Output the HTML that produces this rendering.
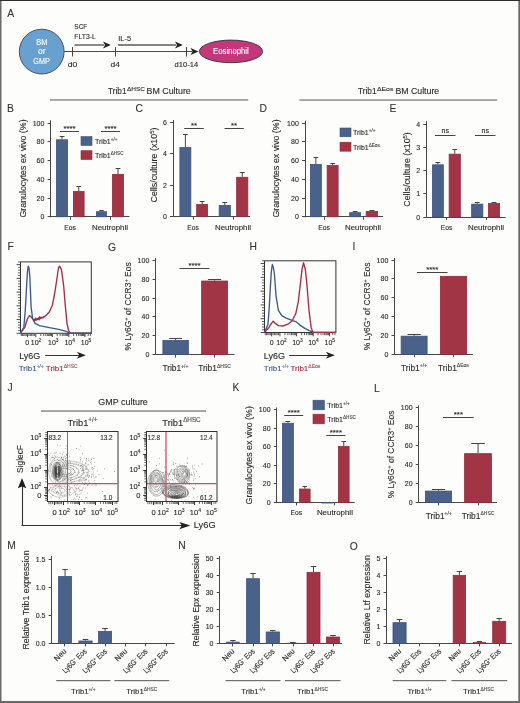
<!DOCTYPE html>
<html><head><meta charset="utf-8"><style>
html,body{margin:0;padding:0;background:#fdfdfb;}
body{width:520px;height:703px;overflow:hidden;}
svg{display:block;will-change:transform;}
text{font-family:"Liberation Sans", sans-serif;}
</style></head><body>
<svg width="520" height="703" viewBox="0 0 520 703" font-family='"Liberation Sans", sans-serif'>
<rect x="0" y="0" width="520" height="703" fill="#fdfdfb"/>
<text x="7.2" y="16.8" font-size="10.3" text-anchor="start" fill="#333" stroke="#333" stroke-width="0.096">A</text>
<text x="6.9" y="111.7" font-size="10.3" text-anchor="start" fill="#333" stroke="#333" stroke-width="0.096">B</text>
<text x="135.5" y="112" font-size="10.3" text-anchor="start" fill="#333" stroke="#333" stroke-width="0.096">C</text>
<text x="259.5" y="112" font-size="10.3" text-anchor="start" fill="#333" stroke="#333" stroke-width="0.096">D</text>
<text x="389.5" y="112" font-size="10.3" text-anchor="start" fill="#333" stroke="#333" stroke-width="0.096">E</text>
<text x="7.5" y="249.8" font-size="10.3" text-anchor="start" fill="#333" stroke="#333" stroke-width="0.096">F</text>
<text x="108" y="250.5" font-size="10.3" text-anchor="start" fill="#333" stroke="#333" stroke-width="0.096">G</text>
<text x="249.5" y="249.8" font-size="10.3" text-anchor="start" fill="#333" stroke="#333" stroke-width="0.096">H</text>
<text x="352.5" y="249.8" font-size="10.3" text-anchor="start" fill="#333" stroke="#333" stroke-width="0.096">I</text>
<text x="7.5" y="390.5" font-size="10.3" text-anchor="start" fill="#333" stroke="#333" stroke-width="0.096">J</text>
<text x="232.5" y="391.2" font-size="10.3" text-anchor="start" fill="#333" stroke="#333" stroke-width="0.096">K</text>
<text x="374" y="391.5" font-size="10.3" text-anchor="start" fill="#333" stroke="#333" stroke-width="0.096">L</text>
<text x="7.2" y="549.1" font-size="10.3" text-anchor="start" fill="#333" stroke="#333" stroke-width="0.096">M</text>
<text x="178.2" y="549.1" font-size="10.3" text-anchor="start" fill="#333" stroke="#333" stroke-width="0.096">N</text>
<text x="349.7" y="549.5" font-size="10.3" text-anchor="start" fill="#333" stroke="#333" stroke-width="0.096">O</text>
<circle cx="41.7" cy="51.6" r="22.4" fill="#68a0d0" stroke="#444" stroke-width="0.9"/>
<text x="41.9" y="44.6" font-size="8.8" text-anchor="middle" fill="#fff" stroke="#fff" stroke-width="0.12" textLength="11.2" lengthAdjust="spacingAndGlyphs">BM</text>
<text x="41.8" y="54.0" font-size="8.8" text-anchor="middle" fill="#fff" stroke="#fff" stroke-width="0.12" textLength="7.5" lengthAdjust="spacingAndGlyphs">or</text>
<text x="41.5" y="63.6" font-size="8.8" text-anchor="middle" fill="#fff" stroke="#fff" stroke-width="0.12" textLength="16.4" lengthAdjust="spacingAndGlyphs">GMP</text>
<line x1="64.1" y1="51.5" x2="192" y2="51.5" stroke="#4a4a4a" stroke-width="1"/>
<path d="M190.5 48.1 L198.5 51.5 L190.5 54.9 L192.5 51.5 Z" fill="#222"/>
<line x1="72.5" y1="47.1" x2="72.5" y2="56.5" stroke="#444" stroke-width="1"/>
<line x1="115.5" y1="47.1" x2="115.5" y2="56.5" stroke="#444" stroke-width="1"/>
<line x1="186.5" y1="47.1" x2="186.5" y2="56.5" stroke="#444" stroke-width="1"/>
<text x="67.8" y="67" font-size="8" text-anchor="start" fill="#2a2a2a" stroke="#2a2a2a" stroke-width="0.12" textLength="9.6" lengthAdjust="spacingAndGlyphs">d0</text>
<text x="110.6" y="67" font-size="8" text-anchor="start" fill="#2a2a2a" stroke="#2a2a2a" stroke-width="0.12" textLength="9.4" lengthAdjust="spacingAndGlyphs">d4</text>
<text x="186.3" y="67" font-size="8" text-anchor="middle" fill="#2a2a2a" stroke="#2a2a2a" stroke-width="0.12" textLength="23.6" lengthAdjust="spacingAndGlyphs">d10-14</text>
<text x="74.3" y="29.3" font-size="8" text-anchor="start" fill="#2a2a2a" stroke="#2a2a2a" stroke-width="0.12" textLength="13" lengthAdjust="spacingAndGlyphs">SCF</text>
<text x="74.3" y="39.3" font-size="8" text-anchor="start" fill="#2a2a2a" stroke="#2a2a2a" stroke-width="0.12" textLength="21.6" lengthAdjust="spacingAndGlyphs">FLT3-L</text>
<line x1="74.5" y1="45" x2="104" y2="45" stroke="#5a5a5a" stroke-width="1.4"/>
<path d="M103 41.6 L110.8 45 L103 48.4 L105 45 Z" fill="#222"/>
<text x="118.3" y="41" font-size="8" text-anchor="start" fill="#2a2a2a" stroke="#2a2a2a" stroke-width="0.12" textLength="12.8" lengthAdjust="spacingAndGlyphs">IL-5</text>
<line x1="117.8" y1="45" x2="176" y2="45" stroke="#5a5a5a" stroke-width="1.4"/>
<path d="M175 41.6 L182.8 45 L175 48.4 L177 45 Z" fill="#222"/>
<ellipse cx="231" cy="51.4" rx="31.6" ry="11.3" fill="#c3387b" stroke="#333" stroke-width="0.9"/>
<text x="230.9" y="53.7" font-size="8.9" text-anchor="middle" fill="#fff" stroke="#fff" stroke-width="0.12" textLength="35.6" lengthAdjust="spacingAndGlyphs">Eosinophil</text>
<text x="108.1" y="94.4" font-size="9.3" text-anchor="start" fill="#2a2a2a" stroke="#2a2a2a" stroke-width="0.12" textLength="18.4" lengthAdjust="spacingAndGlyphs">Trib1</text>
<text x="126.9" y="90.8" font-size="6.2" text-anchor="start" fill="#2a2a2a" stroke="#2a2a2a" stroke-width="0.12" textLength="18" lengthAdjust="spacingAndGlyphs">ΔHSC</text>
<text x="146.5" y="94.4" font-size="9.3" text-anchor="start" fill="#2a2a2a" stroke="#2a2a2a" stroke-width="0.12" textLength="44.3" lengthAdjust="spacingAndGlyphs">BM Culture</text>
<rect x="49.9" y="99.2" width="198.3" height="1.5" fill="#8e8e8a"/>
<text x="358.1" y="94.4" font-size="9.3" text-anchor="start" fill="#2a2a2a" stroke="#2a2a2a" stroke-width="0.12" textLength="18.4" lengthAdjust="spacingAndGlyphs">Trib1</text>
<text x="376.9" y="90.8" font-size="6.2" text-anchor="start" fill="#2a2a2a" stroke="#2a2a2a" stroke-width="0.12" textLength="16.5" lengthAdjust="spacingAndGlyphs">ΔEos</text>
<text x="395.4" y="94.4" font-size="9.3" text-anchor="start" fill="#2a2a2a" stroke="#2a2a2a" stroke-width="0.12" textLength="43.8" lengthAdjust="spacingAndGlyphs">BM Culture</text>
<rect x="299.4" y="99.3" width="197.8" height="1.5" fill="#8e8e8a"/>
<line x1="50.5" y1="120.3" x2="50.5" y2="217.25" stroke="#474744" stroke-width="1"/>
<line x1="50.1" y1="216.5" x2="129.5" y2="216.5" stroke="#474744" stroke-width="1"/>
<line x1="47.6" y1="216.5" x2="50.6" y2="216.5" stroke="#474744" stroke-width="1"/>
<text x="44.4" y="218.85" font-size="7.8" text-anchor="end" fill="#2a2a2a" stroke="#2a2a2a" stroke-width="0.12" textLength="3.9" lengthAdjust="spacingAndGlyphs">0</text>
<line x1="47.6" y1="198.5" x2="50.6" y2="198.5" stroke="#474744" stroke-width="1"/>
<text x="44.4" y="200.85" font-size="7.8" text-anchor="end" fill="#2a2a2a" stroke="#2a2a2a" stroke-width="0.12" textLength="7.81" lengthAdjust="spacingAndGlyphs">20</text>
<line x1="47.6" y1="179.5" x2="50.6" y2="179.5" stroke="#474744" stroke-width="1"/>
<text x="44.4" y="181.85" font-size="7.8" text-anchor="end" fill="#2a2a2a" stroke="#2a2a2a" stroke-width="0.12" textLength="7.81" lengthAdjust="spacingAndGlyphs">40</text>
<line x1="47.6" y1="160.5" x2="50.6" y2="160.5" stroke="#474744" stroke-width="1"/>
<text x="44.4" y="162.85" font-size="7.8" text-anchor="end" fill="#2a2a2a" stroke="#2a2a2a" stroke-width="0.12" textLength="7.81" lengthAdjust="spacingAndGlyphs">60</text>
<line x1="47.6" y1="141.5" x2="50.6" y2="141.5" stroke="#474744" stroke-width="1"/>
<text x="44.4" y="143.85" font-size="7.8" text-anchor="end" fill="#2a2a2a" stroke="#2a2a2a" stroke-width="0.12" textLength="7.81" lengthAdjust="spacingAndGlyphs">80</text>
<line x1="47.6" y1="123.5" x2="50.6" y2="123.5" stroke="#474744" stroke-width="1"/>
<text x="44.4" y="125.85" font-size="7.8" text-anchor="end" fill="#2a2a2a" stroke="#2a2a2a" stroke-width="0.12" textLength="11.71" lengthAdjust="spacingAndGlyphs">100</text>
<line x1="70.5" y1="216.75" x2="70.5" y2="219.75" stroke="#474744" stroke-width="1"/>
<line x1="110.5" y1="216.75" x2="110.5" y2="219.75" stroke="#474744" stroke-width="1"/>
<line x1="62.0" y1="136.3125" x2="62.0" y2="139.40625" stroke="#444" stroke-width="1"/>
<line x1="59.6" y1="136.5" x2="64.4" y2="136.5" stroke="#444" stroke-width="1"/>
<rect x="56.4" y="139.80625" width="11.2" height="76.94375" fill="#4a6189" stroke="#3c5280" stroke-width="0.8"/>
<line x1="78.75" y1="186.28125" x2="78.75" y2="190.96875" stroke="#444" stroke-width="1"/>
<line x1="76.45" y1="186.5" x2="81.05" y2="186.5" stroke="#444" stroke-width="1"/>
<rect x="73.4" y="191.36875" width="10.7" height="25.38125" fill="#a13445" stroke="#942b3c" stroke-width="0.8"/>
<line x1="101.5" y1="210.75" x2="101.5" y2="211.3125" stroke="#444" stroke-width="1"/>
<line x1="99.3" y1="210.5" x2="103.7" y2="210.5" stroke="#444" stroke-width="1"/>
<rect x="96.4" y="211.7125" width="10.2" height="5.0375" fill="#4a6189" stroke="#3c5280" stroke-width="0.8"/>
<line x1="118.0" y1="168.75" x2="118.0" y2="174.0" stroke="#444" stroke-width="1"/>
<line x1="115.6" y1="168.5" x2="120.4" y2="168.5" stroke="#444" stroke-width="1"/>
<rect x="112.4" y="174.4" width="11.2" height="42.35" fill="#a13445" stroke="#942b3c" stroke-width="0.8"/>
<line x1="60" y1="131.5" x2="79" y2="131.5" stroke="#444" stroke-width="1"/>
<text x="69.5" y="131.2" font-size="7.8" text-anchor="middle" fill="#2a2a2a" stroke="#2a2a2a" stroke-width="0.12">****</text>
<line x1="101" y1="131.5" x2="120" y2="131.5" stroke="#444" stroke-width="1"/>
<text x="110.5" y="131.2" font-size="7.8" text-anchor="middle" fill="#2a2a2a" stroke="#2a2a2a" stroke-width="0.12">****</text>
<rect x="81" y="136.5" width="11" height="9" fill="#4a6189" stroke="#3c5280" stroke-width="0.6"/>
<rect x="81" y="150.7" width="11" height="8.8" fill="#a13445" stroke="#942b3c" stroke-width="0.6"/>
<text x="95" y="143.6" font-size="7" text-anchor="start" fill="#2a2a2a" stroke="#2a2a2a" stroke-width="0.12">Trib1<tspan dy="-3" font-size="4.6" fill-opacity="0.8">+/+</tspan></text>
<text x="95" y="157.8" font-size="7" text-anchor="start" fill="#2a2a2a" stroke="#2a2a2a" stroke-width="0.12">Trib1<tspan dy="-3" font-size="4.6" fill-opacity="0.8">ΔHSC</tspan></text>
<text x="70" y="229.8" font-size="7.3" text-anchor="middle" fill="#2a2a2a" stroke="#2a2a2a" stroke-width="0.12" textLength="11.6" lengthAdjust="spacingAndGlyphs">Eos</text>
<text x="110" y="229.8" font-size="7.3" text-anchor="middle" fill="#2a2a2a" stroke="#2a2a2a" stroke-width="0.12" textLength="36" lengthAdjust="spacingAndGlyphs">Neutrophil</text>
<text x="26" y="168.5" font-size="9" text-anchor="middle" fill="#2a2a2a" stroke="#2a2a2a" stroke-width="0.12" transform="rotate(-90 26 168.5)" textLength="98.2" lengthAdjust="spacingAndGlyphs">Granulocytes ex vivo (%)</text>
<line x1="173.5" y1="120" x2="173.5" y2="217.1" stroke="#474744" stroke-width="1"/>
<line x1="172.5" y1="216.5" x2="250" y2="216.5" stroke="#474744" stroke-width="1"/>
<line x1="170" y1="216.5" x2="173" y2="216.5" stroke="#474744" stroke-width="1"/>
<text x="166.8" y="218.85" font-size="7.8" text-anchor="end" fill="#2a2a2a" stroke="#2a2a2a" stroke-width="0.12" textLength="3.9" lengthAdjust="spacingAndGlyphs">0</text>
<line x1="170" y1="185.5" x2="173" y2="185.5" stroke="#474744" stroke-width="1"/>
<text x="166.8" y="187.85" font-size="7.8" text-anchor="end" fill="#2a2a2a" stroke="#2a2a2a" stroke-width="0.12" textLength="3.9" lengthAdjust="spacingAndGlyphs">2</text>
<line x1="170" y1="153.5" x2="173" y2="153.5" stroke="#474744" stroke-width="1"/>
<text x="166.8" y="155.85" font-size="7.8" text-anchor="end" fill="#2a2a2a" stroke="#2a2a2a" stroke-width="0.12" textLength="3.9" lengthAdjust="spacingAndGlyphs">4</text>
<line x1="170" y1="122.5" x2="173" y2="122.5" stroke="#474744" stroke-width="1"/>
<text x="166.8" y="124.85" font-size="7.8" text-anchor="end" fill="#2a2a2a" stroke="#2a2a2a" stroke-width="0.12" textLength="3.9" lengthAdjust="spacingAndGlyphs">6</text>
<line x1="193.5" y1="216.6" x2="193.5" y2="219.6" stroke="#474744" stroke-width="1"/>
<line x1="233.5" y1="216.6" x2="233.5" y2="219.6" stroke="#474744" stroke-width="1"/>
<line x1="185.375" y1="134.48899999999998" x2="185.375" y2="147.049" stroke="#444" stroke-width="1"/>
<line x1="183.025" y1="134.5" x2="187.725" y2="134.5" stroke="#444" stroke-width="1"/>
<rect x="179.9" y="147.449" width="10.95" height="69.15099999999998" fill="#4a6189" stroke="#3c5280" stroke-width="0.8"/>
<line x1="202.125" y1="201.999" x2="202.125" y2="204.04" stroke="#444" stroke-width="1"/>
<line x1="199.775" y1="201.5" x2="204.475" y2="201.5" stroke="#444" stroke-width="1"/>
<rect x="196.65" y="204.44" width="10.95" height="12.160000000000002" fill="#a13445" stroke="#942b3c" stroke-width="0.8"/>
<line x1="224.75" y1="202.47" x2="224.75" y2="204.982" stroke="#444" stroke-width="1"/>
<line x1="222.35" y1="202.5" x2="227.15" y2="202.5" stroke="#444" stroke-width="1"/>
<rect x="219.15" y="205.382" width="11.2" height="11.217999999999995" fill="#4a6189" stroke="#3c5280" stroke-width="0.8"/>
<line x1="242.25" y1="172.954" x2="242.25" y2="176.879" stroke="#444" stroke-width="1"/>
<line x1="239.85" y1="172.5" x2="244.65" y2="172.5" stroke="#444" stroke-width="1"/>
<rect x="236.65" y="177.279" width="11.2" height="39.321000000000005" fill="#a13445" stroke="#942b3c" stroke-width="0.8"/>
<line x1="184.25" y1="128.5" x2="203.75" y2="128.5" stroke="#444" stroke-width="1"/>
<text x="194.0" y="128.2" font-size="7.8" text-anchor="middle" fill="#2a2a2a" stroke="#2a2a2a" stroke-width="0.12">**</text>
<line x1="224.5" y1="128.5" x2="243.75" y2="128.5" stroke="#444" stroke-width="1"/>
<text x="234.125" y="128.2" font-size="7.8" text-anchor="middle" fill="#2a2a2a" stroke="#2a2a2a" stroke-width="0.12">**</text>
<text x="193" y="229.8" font-size="7.3" text-anchor="middle" fill="#2a2a2a" stroke="#2a2a2a" stroke-width="0.12" textLength="11.6" lengthAdjust="spacingAndGlyphs">Eos</text>
<text x="233" y="229.8" font-size="7.3" text-anchor="middle" fill="#2a2a2a" stroke="#2a2a2a" stroke-width="0.12" textLength="36" lengthAdjust="spacingAndGlyphs">Neutrophil</text>
<text x="156.8" y="165" font-size="9" text-anchor="middle" fill="#2a2a2a" stroke="#2a2a2a" stroke-width="0.12" transform="rotate(-90 156.8 165)" textLength="75.1" lengthAdjust="spacingAndGlyphs">Cells/culture (x10<tspan dy="-3" font-size="6">5</tspan><tspan dy="3">)</tspan></text>
<line x1="305.5" y1="120.75" x2="305.5" y2="217.25" stroke="#474744" stroke-width="1"/>
<line x1="304.5" y1="216.5" x2="383" y2="216.5" stroke="#474744" stroke-width="1"/>
<line x1="302" y1="216.5" x2="305" y2="216.5" stroke="#474744" stroke-width="1"/>
<text x="298.8" y="218.85" font-size="7.8" text-anchor="end" fill="#2a2a2a" stroke="#2a2a2a" stroke-width="0.12" textLength="3.9" lengthAdjust="spacingAndGlyphs">0</text>
<line x1="302" y1="198.5" x2="305" y2="198.5" stroke="#474744" stroke-width="1"/>
<text x="298.8" y="200.85" font-size="7.8" text-anchor="end" fill="#2a2a2a" stroke="#2a2a2a" stroke-width="0.12" textLength="7.81" lengthAdjust="spacingAndGlyphs">20</text>
<line x1="302" y1="179.5" x2="305" y2="179.5" stroke="#474744" stroke-width="1"/>
<text x="298.8" y="181.85" font-size="7.8" text-anchor="end" fill="#2a2a2a" stroke="#2a2a2a" stroke-width="0.12" textLength="7.81" lengthAdjust="spacingAndGlyphs">40</text>
<line x1="302" y1="160.5" x2="305" y2="160.5" stroke="#474744" stroke-width="1"/>
<text x="298.8" y="162.85" font-size="7.8" text-anchor="end" fill="#2a2a2a" stroke="#2a2a2a" stroke-width="0.12" textLength="7.81" lengthAdjust="spacingAndGlyphs">60</text>
<line x1="302" y1="141.5" x2="305" y2="141.5" stroke="#474744" stroke-width="1"/>
<text x="298.8" y="143.85" font-size="7.8" text-anchor="end" fill="#2a2a2a" stroke="#2a2a2a" stroke-width="0.12" textLength="7.81" lengthAdjust="spacingAndGlyphs">80</text>
<line x1="302" y1="123.5" x2="305" y2="123.5" stroke="#474744" stroke-width="1"/>
<text x="298.8" y="125.85" font-size="7.8" text-anchor="end" fill="#2a2a2a" stroke="#2a2a2a" stroke-width="0.12" textLength="11.71" lengthAdjust="spacingAndGlyphs">100</text>
<line x1="324.5" y1="216.75" x2="324.5" y2="219.75" stroke="#474744" stroke-width="1"/>
<line x1="363.5" y1="216.75" x2="363.5" y2="219.75" stroke="#474744" stroke-width="1"/>
<line x1="315.875" y1="157.5" x2="315.875" y2="163.96875" stroke="#444" stroke-width="1"/>
<line x1="313.525" y1="157.5" x2="318.225" y2="157.5" stroke="#444" stroke-width="1"/>
<rect x="310.4" y="164.36875" width="10.95" height="52.38125" fill="#4a6189" stroke="#3c5280" stroke-width="0.8"/>
<line x1="332.625" y1="163.21875" x2="332.625" y2="165.1875" stroke="#444" stroke-width="1"/>
<line x1="330.275" y1="163.5" x2="334.975" y2="163.5" stroke="#444" stroke-width="1"/>
<rect x="327.15" y="165.5875" width="10.95" height="51.1625" fill="#a13445" stroke="#942b3c" stroke-width="0.8"/>
<line x1="355.125" y1="211.5" x2="355.125" y2="212.25" stroke="#444" stroke-width="1"/>
<line x1="352.775" y1="211.5" x2="357.475" y2="211.5" stroke="#444" stroke-width="1"/>
<rect x="349.65" y="212.65" width="10.95" height="4.1" fill="#4a6189" stroke="#3c5280" stroke-width="0.8"/>
<line x1="371.875" y1="210.0" x2="371.875" y2="211.125" stroke="#444" stroke-width="1"/>
<line x1="369.425" y1="210.5" x2="374.325" y2="210.5" stroke="#444" stroke-width="1"/>
<rect x="366.15" y="211.525" width="11.45" height="5.225" fill="#a13445" stroke="#942b3c" stroke-width="0.8"/>
<rect x="340" y="128" width="11" height="8.8" fill="#4a6189" stroke="#3c5280" stroke-width="0.6"/>
<rect x="340" y="142.2" width="11" height="9" fill="#a13445" stroke="#942b3c" stroke-width="0.6"/>
<text x="353" y="135.2" font-size="7" text-anchor="start" fill="#2a2a2a" stroke="#2a2a2a" stroke-width="0.12">Trib1<tspan dy="-3" font-size="4.6" fill-opacity="0.8">+/+</tspan></text>
<text x="353" y="149.6" font-size="7" text-anchor="start" fill="#2a2a2a" stroke="#2a2a2a" stroke-width="0.12">Trib1<tspan dy="-3" font-size="4.6" fill-opacity="0.8">ΔEos</tspan></text>
<text x="324" y="229.8" font-size="7.3" text-anchor="middle" fill="#2a2a2a" stroke="#2a2a2a" stroke-width="0.12" textLength="11.6" lengthAdjust="spacingAndGlyphs">Eos</text>
<text x="363" y="229.8" font-size="7.3" text-anchor="middle" fill="#2a2a2a" stroke="#2a2a2a" stroke-width="0.12" textLength="36" lengthAdjust="spacingAndGlyphs">Neutrophil</text>
<text x="279.3" y="168.5" font-size="9" text-anchor="middle" fill="#2a2a2a" stroke="#2a2a2a" stroke-width="0.12" transform="rotate(-90 279.3 168.5)" textLength="98.2" lengthAdjust="spacingAndGlyphs">Granulocytes ex vivo (%)</text>
<line x1="426.5" y1="121.2" x2="426.5" y2="217.5" stroke="#474744" stroke-width="1"/>
<line x1="425.75" y1="217.5" x2="505.7" y2="217.5" stroke="#474744" stroke-width="1"/>
<line x1="423.25" y1="217.5" x2="426.25" y2="217.5" stroke="#474744" stroke-width="1"/>
<text x="420.05" y="219.85" font-size="7.8" text-anchor="end" fill="#2a2a2a" stroke="#2a2a2a" stroke-width="0.12" textLength="3.9" lengthAdjust="spacingAndGlyphs">0</text>
<line x1="423.25" y1="193.5" x2="426.25" y2="193.5" stroke="#474744" stroke-width="1"/>
<text x="420.05" y="195.85" font-size="7.8" text-anchor="end" fill="#2a2a2a" stroke="#2a2a2a" stroke-width="0.12" textLength="3.9" lengthAdjust="spacingAndGlyphs">1</text>
<line x1="423.25" y1="170.5" x2="426.25" y2="170.5" stroke="#474744" stroke-width="1"/>
<text x="420.05" y="172.85" font-size="7.8" text-anchor="end" fill="#2a2a2a" stroke="#2a2a2a" stroke-width="0.12" textLength="3.9" lengthAdjust="spacingAndGlyphs">2</text>
<line x1="423.25" y1="147.5" x2="426.25" y2="147.5" stroke="#474744" stroke-width="1"/>
<text x="420.05" y="149.85" font-size="7.8" text-anchor="end" fill="#2a2a2a" stroke="#2a2a2a" stroke-width="0.12" textLength="3.9" lengthAdjust="spacingAndGlyphs">3</text>
<line x1="423.25" y1="124.5" x2="426.25" y2="124.5" stroke="#474744" stroke-width="1"/>
<text x="420.05" y="126.85" font-size="7.8" text-anchor="end" fill="#2a2a2a" stroke="#2a2a2a" stroke-width="0.12" textLength="3.9" lengthAdjust="spacingAndGlyphs">4</text>
<line x1="446.5" y1="217" x2="446.5" y2="220" stroke="#474744" stroke-width="1"/>
<line x1="486.5" y1="217" x2="486.5" y2="220" stroke="#474744" stroke-width="1"/>
<line x1="437.875" y1="162.13" x2="437.875" y2="164.455" stroke="#444" stroke-width="1"/>
<line x1="435.525" y1="162.5" x2="440.225" y2="162.5" stroke="#444" stroke-width="1"/>
<rect x="432.4" y="164.85500000000002" width="10.95" height="52.14499999999999" fill="#4a6189" stroke="#3c5280" stroke-width="0.8"/>
<line x1="454.75" y1="149.575" x2="454.75" y2="153.76" stroke="#444" stroke-width="1"/>
<line x1="452.35" y1="149.5" x2="457.15" y2="149.5" stroke="#444" stroke-width="1"/>
<rect x="449.15" y="154.16" width="11.2" height="62.84000000000001" fill="#a13445" stroke="#942b3c" stroke-width="0.8"/>
<line x1="477.25" y1="202.585" x2="477.25" y2="203.7475" stroke="#444" stroke-width="1"/>
<line x1="474.85" y1="202.5" x2="479.65" y2="202.5" stroke="#444" stroke-width="1"/>
<rect x="471.65" y="204.1475" width="11.2" height="12.852499999999997" fill="#4a6189" stroke="#3c5280" stroke-width="0.8"/>
<line x1="494.0" y1="202.585" x2="494.0" y2="203.05" stroke="#444" stroke-width="1"/>
<line x1="491.6" y1="202.5" x2="496.4" y2="202.5" stroke="#444" stroke-width="1"/>
<rect x="488.4" y="203.45000000000002" width="11.2" height="13.549999999999988" fill="#a13445" stroke="#942b3c" stroke-width="0.8"/>
<line x1="435" y1="135.5" x2="455.5" y2="135.5" stroke="#444" stroke-width="1"/>
<text x="445.25" y="132.9" font-size="7" text-anchor="middle" fill="#2a2a2a" stroke="#2a2a2a" stroke-width="0.12">ns</text>
<line x1="475" y1="135.5" x2="495.5" y2="135.5" stroke="#444" stroke-width="1"/>
<text x="485.25" y="132.9" font-size="7" text-anchor="middle" fill="#2a2a2a" stroke="#2a2a2a" stroke-width="0.12">ns</text>
<text x="446.5" y="229.8" font-size="7.3" text-anchor="middle" fill="#2a2a2a" stroke="#2a2a2a" stroke-width="0.12" textLength="11.6" lengthAdjust="spacingAndGlyphs">Eos</text>
<text x="486" y="229.8" font-size="7.3" text-anchor="middle" fill="#2a2a2a" stroke="#2a2a2a" stroke-width="0.12" textLength="36" lengthAdjust="spacingAndGlyphs">Neutrophil</text>
<text x="410.2" y="169.45" font-size="9" text-anchor="middle" fill="#2a2a2a" stroke="#2a2a2a" stroke-width="0.12" transform="rotate(-90 410.2 169.45)" textLength="74.5" lengthAdjust="spacingAndGlyphs">Cells/culture (x10<tspan dy="-3" font-size="6">5</tspan><tspan dy="3">)</tspan></text>
<rect x="20.5" y="261.9" width="70.8" height="71.40000000000003" fill="none" stroke="#333" stroke-width="1"/>
<line x1="16.6" y1="333.3" x2="20" y2="333.3" stroke="#333" stroke-width="0.9"/>
<line x1="18.1" y1="330.55384615384617" x2="20" y2="330.55384615384617" stroke="#333" stroke-width="0.8"/>
<line x1="18.1" y1="327.8076923076923" x2="20" y2="327.8076923076923" stroke="#333" stroke-width="0.8"/>
<line x1="18.1" y1="325.0615384615385" x2="20" y2="325.0615384615385" stroke="#333" stroke-width="0.8"/>
<line x1="18.1" y1="322.31538461538463" x2="20" y2="322.31538461538463" stroke="#333" stroke-width="0.8"/>
<line x1="16.6" y1="319.5692307692308" x2="20" y2="319.5692307692308" stroke="#333" stroke-width="0.9"/>
<line x1="18.1" y1="316.82307692307694" x2="20" y2="316.82307692307694" stroke="#333" stroke-width="0.8"/>
<line x1="18.1" y1="314.0769230769231" x2="20" y2="314.0769230769231" stroke="#333" stroke-width="0.8"/>
<line x1="18.1" y1="311.33076923076925" x2="20" y2="311.33076923076925" stroke="#333" stroke-width="0.8"/>
<line x1="18.1" y1="308.5846153846154" x2="20" y2="308.5846153846154" stroke="#333" stroke-width="0.8"/>
<line x1="16.6" y1="305.83846153846156" x2="20" y2="305.83846153846156" stroke="#333" stroke-width="0.9"/>
<line x1="18.1" y1="303.0923076923077" x2="20" y2="303.0923076923077" stroke="#333" stroke-width="0.8"/>
<line x1="18.1" y1="300.3461538461538" x2="20" y2="300.3461538461538" stroke="#333" stroke-width="0.8"/>
<line x1="18.1" y1="297.6" x2="20" y2="297.6" stroke="#333" stroke-width="0.8"/>
<line x1="18.1" y1="294.8538461538461" x2="20" y2="294.8538461538461" stroke="#333" stroke-width="0.8"/>
<line x1="16.6" y1="292.1076923076923" x2="20" y2="292.1076923076923" stroke="#333" stroke-width="0.9"/>
<line x1="18.1" y1="289.36153846153843" x2="20" y2="289.36153846153843" stroke="#333" stroke-width="0.8"/>
<line x1="18.1" y1="286.6153846153846" x2="20" y2="286.6153846153846" stroke="#333" stroke-width="0.8"/>
<line x1="18.1" y1="283.86923076923074" x2="20" y2="283.86923076923074" stroke="#333" stroke-width="0.8"/>
<line x1="18.1" y1="281.1230769230769" x2="20" y2="281.1230769230769" stroke="#333" stroke-width="0.8"/>
<line x1="16.6" y1="278.37692307692305" x2="20" y2="278.37692307692305" stroke="#333" stroke-width="0.9"/>
<line x1="18.1" y1="275.6307692307692" x2="20" y2="275.6307692307692" stroke="#333" stroke-width="0.8"/>
<line x1="18.1" y1="272.88461538461536" x2="20" y2="272.88461538461536" stroke="#333" stroke-width="0.8"/>
<line x1="18.1" y1="270.1384615384615" x2="20" y2="270.1384615384615" stroke="#333" stroke-width="0.8"/>
<line x1="18.1" y1="267.39230769230767" x2="20" y2="267.39230769230767" stroke="#333" stroke-width="0.8"/>
<line x1="16.6" y1="264.6461538461538" x2="20" y2="264.6461538461538" stroke="#333" stroke-width="0.9"/>
<line x1="18.1" y1="261.9" x2="20" y2="261.9" stroke="#333" stroke-width="0.8"/>
<line x1="27.539" y1="333.8" x2="27.539" y2="337.1" stroke="#333" stroke-width="0.9"/>
<line x1="35.796" y1="333.8" x2="35.796" y2="337.1" stroke="#333" stroke-width="0.9"/>
<line x1="52.31" y1="333.8" x2="52.31" y2="337.1" stroke="#333" stroke-width="0.9"/>
<line x1="68.824" y1="333.8" x2="68.824" y2="337.1" stroke="#333" stroke-width="0.9"/>
<line x1="84.979" y1="333.8" x2="84.979" y2="337.1" stroke="#333" stroke-width="0.9"/>
<line x1="21.2565" y1="333.8" x2="21.2565" y2="336.0" stroke="#333" stroke-width="0.8"/>
<line x1="22.512999999999998" y1="333.8" x2="22.512999999999998" y2="336.0" stroke="#333" stroke-width="0.8"/>
<line x1="23.7695" y1="333.8" x2="23.7695" y2="336.0" stroke="#333" stroke-width="0.8"/>
<line x1="25.026" y1="333.8" x2="25.026" y2="336.0" stroke="#333" stroke-width="0.8"/>
<line x1="26.2825" y1="333.8" x2="26.2825" y2="336.0" stroke="#333" stroke-width="0.8"/>
<line x1="28.915166666666664" y1="333.8" x2="28.915166666666664" y2="336.0" stroke="#333" stroke-width="0.8"/>
<line x1="30.291333333333334" y1="333.8" x2="30.291333333333334" y2="336.0" stroke="#333" stroke-width="0.8"/>
<line x1="31.6675" y1="333.8" x2="31.6675" y2="336.0" stroke="#333" stroke-width="0.8"/>
<line x1="33.04366666666667" y1="333.8" x2="33.04366666666667" y2="336.0" stroke="#333" stroke-width="0.8"/>
<line x1="34.41983333333333" y1="333.8" x2="34.41983333333333" y2="336.0" stroke="#333" stroke-width="0.8"/>
<line x1="40.767209348394985" y1="333.8" x2="40.767209348394985" y2="336.0" stroke="#333" stroke-width="0.8"/>
<line x1="43.6751804004405" y1="333.8" x2="43.6751804004405" y2="336.0" stroke="#333" stroke-width="0.8"/>
<line x1="45.738418696789964" y1="333.8" x2="45.738418696789964" y2="336.0" stroke="#333" stroke-width="0.8"/>
<line x1="47.33879065160501" y1="333.8" x2="47.33879065160501" y2="336.0" stroke="#333" stroke-width="0.8"/>
<line x1="48.64638974883549" y1="333.8" x2="48.64638974883549" y2="336.0" stroke="#333" stroke-width="0.8"/>
<line x1="49.75194903279544" y1="333.8" x2="49.75194903279544" y2="336.0" stroke="#333" stroke-width="0.8"/>
<line x1="50.70962804518496" y1="333.8" x2="50.70962804518496" y2="336.0" stroke="#333" stroke-width="0.8"/>
<line x1="51.55436080088101" y1="333.8" x2="51.55436080088101" y2="336.0" stroke="#333" stroke-width="0.8"/>
<line x1="57.28120934839499" y1="333.8" x2="57.28120934839499" y2="336.0" stroke="#333" stroke-width="0.8"/>
<line x1="60.189180400440506" y1="333.8" x2="60.189180400440506" y2="336.0" stroke="#333" stroke-width="0.8"/>
<line x1="62.252418696789974" y1="333.8" x2="62.252418696789974" y2="336.0" stroke="#333" stroke-width="0.8"/>
<line x1="63.85279065160502" y1="333.8" x2="63.85279065160502" y2="336.0" stroke="#333" stroke-width="0.8"/>
<line x1="65.16038974883548" y1="333.8" x2="65.16038974883548" y2="336.0" stroke="#333" stroke-width="0.8"/>
<line x1="66.26594903279545" y1="333.8" x2="66.26594903279545" y2="336.0" stroke="#333" stroke-width="0.8"/>
<line x1="67.22362804518495" y1="333.8" x2="67.22362804518495" y2="336.0" stroke="#333" stroke-width="0.8"/>
<line x1="68.06836080088101" y1="333.8" x2="68.06836080088101" y2="336.0" stroke="#333" stroke-width="0.8"/>
<line x1="73.6871395799516" y1="333.8" x2="73.6871395799516" y2="336.0" stroke="#333" stroke-width="0.8"/>
<line x1="76.53189386999614" y1="333.8" x2="76.53189386999614" y2="336.0" stroke="#333" stroke-width="0.8"/>
<line x1="78.55027915990323" y1="333.8" x2="78.55027915990323" y2="336.0" stroke="#333" stroke-width="0.8"/>
<line x1="80.11586042004839" y1="333.8" x2="80.11586042004839" y2="336.0" stroke="#333" stroke-width="0.8"/>
<line x1="81.39503344994776" y1="333.8" x2="81.39503344994776" y2="336.0" stroke="#333" stroke-width="0.8"/>
<line x1="82.47655883643031" y1="333.8" x2="82.47655883643031" y2="336.0" stroke="#333" stroke-width="0.8"/>
<line x1="83.41341873985485" y1="333.8" x2="83.41341873985485" y2="336.0" stroke="#333" stroke-width="0.8"/>
<line x1="84.2397877399923" y1="333.8" x2="84.2397877399923" y2="336.0" stroke="#333" stroke-width="0.8"/>
<line x1="88.21" y1="333.8" x2="88.21" y2="336.0" stroke="#333" stroke-width="0.8"/>
<line x1="90.36399999999999" y1="333.8" x2="90.36399999999999" y2="336.0" stroke="#333" stroke-width="0.8"/>
<path d="M20.4 333.2 L24.7 327.7 L27.3 319.0 L29.4 315.6 L31.6 317.3 L33.0 319.5 L33.6 320.6 L34.2 320.8 L34.8 318.9 L35.2 319.8 L35.7 318.2 L36.0 320.5 L36.5 319.2 L36.8 319.9 L37.3 318.6 L37.8 319.4 L38.5 318.0 L39.1 319.8 L39.6 316.8 L40.3 318.6 L40.9 317.2 L41.5 318.1 L42.3 317.4 L43.0 318.0 L43.6 316.6 L44.6 316.9 L45.5 315.4 L46.5 315.2 L47.6 313.6 L48.9 312.6 L50.5 309.5 L52.4 305.2 L54.0 297.0 L55.0 291.3 L57.1 277.5 L58.3 269.0 L59.3 266.2 L60.5 267.5 L61.6 270.6 L63.7 286.2 L65.4 306.9 L67.1 324.2 L68.8 331.2 L70.6 333.2 L91.5 333.2" fill="none" stroke="#a52d45" stroke-width="1.35" stroke-linejoin="round"/>
<path d="M20.4 333.2 L23.8 327.7 L25.3 310.0 L26.4 289.6 L27.4 272.0 L28.2 266.2 L29.0 268.0 L29.9 277.5 L31.1 306.9 L32.5 318.0 L35.1 323.4 L39.4 325.6 L48.1 327.3 L58.5 329.4 L65.4 331.2 L69.7 332.9 L91.5 333.2" fill="none" stroke="#3a5a8e" stroke-width="1.35" stroke-linejoin="round"/>
<text x="27.3" y="345.2" font-size="7" text-anchor="middle" fill="#2a2a2a" stroke="#2a2a2a" stroke-width="0.12">0</text>
<text x="30.8" y="345.2" font-size="7" text-anchor="start" fill="#2a2a2a" stroke="#2a2a2a" stroke-width="0.12">10<tspan dy="-2.8" font-size="4.8">2</tspan></text>
<text x="48" y="345.2" font-size="7" text-anchor="start" fill="#2a2a2a" stroke="#2a2a2a" stroke-width="0.12">10<tspan dy="-2.8" font-size="4.8">3</tspan></text>
<text x="64.4" y="345.2" font-size="7" text-anchor="start" fill="#2a2a2a" stroke="#2a2a2a" stroke-width="0.12">10<tspan dy="-2.8" font-size="4.8">4</tspan></text>
<text x="80.8" y="345.2" font-size="7" text-anchor="start" fill="#2a2a2a" stroke="#2a2a2a" stroke-width="0.12">10<tspan dy="-2.8" font-size="4.8">5</tspan></text>
<text x="19.2" y="358.5" font-size="9" text-anchor="start" fill="#2a2a2a" stroke="#2a2a2a" stroke-width="0.12">Ly6G</text>
<line x1="45.2" y1="355.5" x2="81.8" y2="355.5" stroke="#333" stroke-width="1.1"/>
<path d="M76.8 351.8 L85.8 355.3 L76.8 358.8 L79.3 355.3 Z" fill="#222"/>
<text x="18.7" y="370.6" font-size="8" text-anchor="start" fill="#3b5a8e" stroke="#3b5a8e" stroke-width="0.12">Trib1<tspan dy="-3" font-size="5" fill-opacity="0.8">+/+</tspan></text>
<text x="45.8" y="370.6" font-size="8" text-anchor="start" fill="#a02f45" stroke="#a02f45" stroke-width="0.12">Trib1<tspan dy="-3" font-size="5" fill-opacity="0.8">ΔHSC</tspan></text>
<rect x="264.5" y="260.8" width="71.39999999999998" height="71.69999999999999" fill="none" stroke="#333" stroke-width="1"/>
<line x1="260.6" y1="332.5" x2="264" y2="332.5" stroke="#333" stroke-width="0.9"/>
<line x1="262.1" y1="329.7423076923077" x2="264" y2="329.7423076923077" stroke="#333" stroke-width="0.8"/>
<line x1="262.1" y1="326.9846153846154" x2="264" y2="326.9846153846154" stroke="#333" stroke-width="0.8"/>
<line x1="262.1" y1="324.2269230769231" x2="264" y2="324.2269230769231" stroke="#333" stroke-width="0.8"/>
<line x1="262.1" y1="321.46923076923076" x2="264" y2="321.46923076923076" stroke="#333" stroke-width="0.8"/>
<line x1="260.6" y1="318.71153846153845" x2="264" y2="318.71153846153845" stroke="#333" stroke-width="0.9"/>
<line x1="262.1" y1="315.95384615384614" x2="264" y2="315.95384615384614" stroke="#333" stroke-width="0.8"/>
<line x1="262.1" y1="313.19615384615383" x2="264" y2="313.19615384615383" stroke="#333" stroke-width="0.8"/>
<line x1="262.1" y1="310.4384615384615" x2="264" y2="310.4384615384615" stroke="#333" stroke-width="0.8"/>
<line x1="262.1" y1="307.6807692307692" x2="264" y2="307.6807692307692" stroke="#333" stroke-width="0.8"/>
<line x1="260.6" y1="304.9230769230769" x2="264" y2="304.9230769230769" stroke="#333" stroke-width="0.9"/>
<line x1="262.1" y1="302.1653846153846" x2="264" y2="302.1653846153846" stroke="#333" stroke-width="0.8"/>
<line x1="262.1" y1="299.4076923076923" x2="264" y2="299.4076923076923" stroke="#333" stroke-width="0.8"/>
<line x1="262.1" y1="296.65" x2="264" y2="296.65" stroke="#333" stroke-width="0.8"/>
<line x1="262.1" y1="293.89230769230767" x2="264" y2="293.89230769230767" stroke="#333" stroke-width="0.8"/>
<line x1="260.6" y1="291.1346153846154" x2="264" y2="291.1346153846154" stroke="#333" stroke-width="0.9"/>
<line x1="262.1" y1="288.3769230769231" x2="264" y2="288.3769230769231" stroke="#333" stroke-width="0.8"/>
<line x1="262.1" y1="285.6192307692308" x2="264" y2="285.6192307692308" stroke="#333" stroke-width="0.8"/>
<line x1="262.1" y1="282.8615384615385" x2="264" y2="282.8615384615385" stroke="#333" stroke-width="0.8"/>
<line x1="262.1" y1="280.1038461538462" x2="264" y2="280.1038461538462" stroke="#333" stroke-width="0.8"/>
<line x1="260.6" y1="277.34615384615387" x2="264" y2="277.34615384615387" stroke="#333" stroke-width="0.9"/>
<line x1="262.1" y1="274.58846153846156" x2="264" y2="274.58846153846156" stroke="#333" stroke-width="0.8"/>
<line x1="262.1" y1="271.83076923076925" x2="264" y2="271.83076923076925" stroke="#333" stroke-width="0.8"/>
<line x1="262.1" y1="269.07307692307694" x2="264" y2="269.07307692307694" stroke="#333" stroke-width="0.8"/>
<line x1="262.1" y1="266.31538461538463" x2="264" y2="266.31538461538463" stroke="#333" stroke-width="0.8"/>
<line x1="260.6" y1="263.5576923076923" x2="264" y2="263.5576923076923" stroke="#333" stroke-width="0.9"/>
<line x1="262.1" y1="260.8" x2="264" y2="260.8" stroke="#333" stroke-width="0.8"/>
<line x1="271.602" y1="333" x2="271.602" y2="336.3" stroke="#333" stroke-width="0.9"/>
<line x1="279.928" y1="333" x2="279.928" y2="336.3" stroke="#333" stroke-width="0.9"/>
<line x1="296.58" y1="333" x2="296.58" y2="336.3" stroke="#333" stroke-width="0.9"/>
<line x1="313.23199999999997" y1="333" x2="313.23199999999997" y2="336.3" stroke="#333" stroke-width="0.9"/>
<line x1="329.522" y1="333" x2="329.522" y2="336.3" stroke="#333" stroke-width="0.9"/>
<line x1="265.267" y1="333" x2="265.267" y2="335.2" stroke="#333" stroke-width="0.8"/>
<line x1="266.534" y1="333" x2="266.534" y2="335.2" stroke="#333" stroke-width="0.8"/>
<line x1="267.801" y1="333" x2="267.801" y2="335.2" stroke="#333" stroke-width="0.8"/>
<line x1="269.068" y1="333" x2="269.068" y2="335.2" stroke="#333" stroke-width="0.8"/>
<line x1="270.335" y1="333" x2="270.335" y2="335.2" stroke="#333" stroke-width="0.8"/>
<line x1="272.98966666666666" y1="333" x2="272.98966666666666" y2="335.2" stroke="#333" stroke-width="0.8"/>
<line x1="274.37733333333335" y1="333" x2="274.37733333333335" y2="335.2" stroke="#333" stroke-width="0.8"/>
<line x1="275.765" y1="333" x2="275.765" y2="335.2" stroke="#333" stroke-width="0.8"/>
<line x1="277.1526666666667" y1="333" x2="277.1526666666667" y2="335.2" stroke="#333" stroke-width="0.8"/>
<line x1="278.5403333333333" y1="333" x2="278.5403333333333" y2="335.2" stroke="#333" stroke-width="0.8"/>
<line x1="284.9407514877966" y1="333" x2="284.9407514877966" y2="335.2" stroke="#333" stroke-width="0.8"/>
<line x1="287.8730231335918" y1="333" x2="287.8730231335918" y2="335.2" stroke="#333" stroke-width="0.8"/>
<line x1="289.9535029755932" y1="333" x2="289.9535029755932" y2="335.2" stroke="#333" stroke-width="0.8"/>
<line x1="291.5672485122034" y1="333" x2="291.5672485122034" y2="335.2" stroke="#333" stroke-width="0.8"/>
<line x1="292.8857746213884" y1="333" x2="292.8857746213884" y2="335.2" stroke="#333" stroke-width="0.8"/>
<line x1="294.0005725623174" y1="333" x2="294.0005725623174" y2="335.2" stroke="#333" stroke-width="0.8"/>
<line x1="294.9662544633898" y1="333" x2="294.9662544633898" y2="335.2" stroke="#333" stroke-width="0.8"/>
<line x1="295.8180462671836" y1="333" x2="295.8180462671836" y2="335.2" stroke="#333" stroke-width="0.8"/>
<line x1="301.5927514877966" y1="333" x2="301.5927514877966" y2="335.2" stroke="#333" stroke-width="0.8"/>
<line x1="304.5250231335918" y1="333" x2="304.5250231335918" y2="335.2" stroke="#333" stroke-width="0.8"/>
<line x1="306.60550297559325" y1="333" x2="306.60550297559325" y2="335.2" stroke="#333" stroke-width="0.8"/>
<line x1="308.21924851220336" y1="333" x2="308.21924851220336" y2="335.2" stroke="#333" stroke-width="0.8"/>
<line x1="309.5377746213884" y1="333" x2="309.5377746213884" y2="335.2" stroke="#333" stroke-width="0.8"/>
<line x1="310.6525725623174" y1="333" x2="310.6525725623174" y2="335.2" stroke="#333" stroke-width="0.8"/>
<line x1="311.6182544633898" y1="333" x2="311.6182544633898" y2="335.2" stroke="#333" stroke-width="0.8"/>
<line x1="312.47004626718365" y1="333" x2="312.47004626718365" y2="335.2" stroke="#333" stroke-width="0.8"/>
<line x1="318.13577862936626" y1="333" x2="318.13577862936626" y2="335.2" stroke="#333" stroke-width="0.8"/>
<line x1="321.00430523938326" y1="333" x2="321.00430523938326" y2="335.2" stroke="#333" stroke-width="0.8"/>
<line x1="323.0395572587325" y1="333" x2="323.0395572587325" y2="335.2" stroke="#333" stroke-width="0.8"/>
<line x1="324.6182213706337" y1="333" x2="324.6182213706337" y2="335.2" stroke="#333" stroke-width="0.8"/>
<line x1="325.90808386874954" y1="333" x2="325.90808386874954" y2="335.2" stroke="#333" stroke-width="0.8"/>
<line x1="326.99864707183224" y1="333" x2="326.99864707183224" y2="335.2" stroke="#333" stroke-width="0.8"/>
<line x1="327.9433358880988" y1="333" x2="327.9433358880988" y2="335.2" stroke="#333" stroke-width="0.8"/>
<line x1="328.7766104787666" y1="333" x2="328.7766104787666" y2="335.2" stroke="#333" stroke-width="0.8"/>
<line x1="332.78" y1="333" x2="332.78" y2="335.2" stroke="#333" stroke-width="0.8"/>
<line x1="334.952" y1="333" x2="334.952" y2="335.2" stroke="#333" stroke-width="0.8"/>
<path d="M264.5 332.4 L268.0 324.2 L269.2 308.0 L270.2 289.6 L271.3 272.0 L272.3 264.5 L273.3 267.0 L274.4 274.0 L276.1 296.5 L278.4 310.4 L281.8 315.6 L286.2 318.2 L292.2 320.4 L295.7 321.6 L300.0 325.1 L305.2 328.6 L310.4 331.2 L313.0 332.4 L336.0 332.4" fill="none" stroke="#3a5a8e" stroke-width="1.35" stroke-linejoin="round"/>
<path d="M264.5 332.4 L268.8 327.7 L271.4 323.4 L273.2 321.3 L275.4 323.4 L278.4 325.6 L282.7 326.0 L287.9 324.2 L292.2 320.8 L295.7 313.8 L298.3 301.7 L300.3 284.4 L302.1 268.8 L303.5 262.8 L305.2 268.8 L306.9 284.4 L309.0 310.4 L311.2 327.7 L313.0 332.4 L336.0 332.4" fill="none" stroke="#a52d45" stroke-width="1.35" stroke-linejoin="round"/>
<text x="271.8" y="345.2" font-size="7" text-anchor="middle" fill="#2a2a2a" stroke="#2a2a2a" stroke-width="0.12">0</text>
<text x="276.3" y="345.2" font-size="7" text-anchor="start" fill="#2a2a2a" stroke="#2a2a2a" stroke-width="0.12">10<tspan dy="-2.8" font-size="4.8">2</tspan></text>
<text x="292.2" y="345.2" font-size="7" text-anchor="start" fill="#2a2a2a" stroke="#2a2a2a" stroke-width="0.12">10<tspan dy="-2.8" font-size="4.8">3</tspan></text>
<text x="308.2" y="345.2" font-size="7" text-anchor="start" fill="#2a2a2a" stroke="#2a2a2a" stroke-width="0.12">10<tspan dy="-2.8" font-size="4.8">4</tspan></text>
<text x="324.5" y="345.2" font-size="7" text-anchor="start" fill="#2a2a2a" stroke="#2a2a2a" stroke-width="0.12">10<tspan dy="-2.8" font-size="4.8">5</tspan></text>
<text x="263.8" y="358.5" font-size="9" text-anchor="start" fill="#2a2a2a" stroke="#2a2a2a" stroke-width="0.12">Ly6G</text>
<line x1="289.2" y1="355.5" x2="330.8" y2="355.5" stroke="#333" stroke-width="1.1"/>
<path d="M325.8 351.8 L334.8 355.3 L325.8 358.8 L328.3 355.3 Z" fill="#222"/>
<text x="263.8" y="370.6" font-size="8" text-anchor="start" fill="#3b5a8e" stroke="#3b5a8e" stroke-width="0.12">Trib1<tspan dy="-3" font-size="5" fill-opacity="0.8">+/+</tspan></text>
<text x="290.4" y="370.6" font-size="8" text-anchor="start" fill="#a02f45" stroke="#a02f45" stroke-width="0.12">Trib1<tspan dy="-3" font-size="5" fill-opacity="0.8">ΔEos</tspan></text>
<line x1="155.5" y1="258" x2="155.5" y2="355.1" stroke="#474744" stroke-width="1"/>
<line x1="155.0" y1="354.5" x2="234.5" y2="354.5" stroke="#474744" stroke-width="1"/>
<line x1="152.5" y1="354.5" x2="155.5" y2="354.5" stroke="#474744" stroke-width="1"/>
<text x="149.3" y="356.85" font-size="7.8" text-anchor="end" fill="#2a2a2a" stroke="#2a2a2a" stroke-width="0.12" textLength="3.9" lengthAdjust="spacingAndGlyphs">0</text>
<line x1="152.5" y1="335.5" x2="155.5" y2="335.5" stroke="#474744" stroke-width="1"/>
<text x="149.3" y="337.85" font-size="7.8" text-anchor="end" fill="#2a2a2a" stroke="#2a2a2a" stroke-width="0.12" textLength="7.81" lengthAdjust="spacingAndGlyphs">20</text>
<line x1="152.5" y1="316.5" x2="155.5" y2="316.5" stroke="#474744" stroke-width="1"/>
<text x="149.3" y="318.85" font-size="7.8" text-anchor="end" fill="#2a2a2a" stroke="#2a2a2a" stroke-width="0.12" textLength="7.81" lengthAdjust="spacingAndGlyphs">40</text>
<line x1="152.5" y1="298.5" x2="155.5" y2="298.5" stroke="#474744" stroke-width="1"/>
<text x="149.3" y="300.85" font-size="7.8" text-anchor="end" fill="#2a2a2a" stroke="#2a2a2a" stroke-width="0.12" textLength="7.81" lengthAdjust="spacingAndGlyphs">60</text>
<line x1="152.5" y1="279.5" x2="155.5" y2="279.5" stroke="#474744" stroke-width="1"/>
<text x="149.3" y="281.85" font-size="7.8" text-anchor="end" fill="#2a2a2a" stroke="#2a2a2a" stroke-width="0.12" textLength="7.81" lengthAdjust="spacingAndGlyphs">80</text>
<line x1="152.5" y1="260.5" x2="155.5" y2="260.5" stroke="#474744" stroke-width="1"/>
<text x="149.3" y="262.85" font-size="7.8" text-anchor="end" fill="#2a2a2a" stroke="#2a2a2a" stroke-width="0.12" textLength="11.71" lengthAdjust="spacingAndGlyphs">100</text>
<line x1="175.5" y1="354.6" x2="175.5" y2="357.6" stroke="#474744" stroke-width="1"/>
<line x1="214.5" y1="354.6" x2="214.5" y2="357.6" stroke="#474744" stroke-width="1"/>
<line x1="175.625" y1="338.29475" x2="175.625" y2="339.99125000000004" stroke="#444" stroke-width="1"/>
<line x1="169.19375" y1="338.5" x2="182.05625" y2="338.5" stroke="#444" stroke-width="1"/>
<rect x="162.9" y="340.39125" width="25.45" height="14.208749999999986" fill="#4a6189" stroke="#3c5280" stroke-width="0.8"/>
<line x1="214.625" y1="279.3885" x2="214.625" y2="280.61375000000004" stroke="#444" stroke-width="1"/>
<line x1="208.07125" y1="279.5" x2="221.17875" y2="279.5" stroke="#444" stroke-width="1"/>
<rect x="201.65" y="281.01375" width="25.95" height="73.58624999999998" fill="#a13445" stroke="#942b3c" stroke-width="0.8"/>
<line x1="179.5" y1="268.5" x2="209.5" y2="268.5" stroke="#444" stroke-width="1"/>
<text x="194.5" y="268.2" font-size="7.8" text-anchor="middle" fill="#2a2a2a" stroke="#2a2a2a" stroke-width="0.12">****</text>
<text x="175.4" y="371" font-size="8.4" text-anchor="middle" fill="#2a2a2a" stroke="#2a2a2a" stroke-width="0.12">Trib1<tspan dy="-3.3" font-size="5" fill-opacity="0.8">+/+</tspan></text>
<text x="214.5" y="371" font-size="8.4" text-anchor="middle" fill="#2a2a2a" stroke="#2a2a2a" stroke-width="0.12">Trib1<tspan dy="-3.3" font-size="5" fill-opacity="0.8">ΔHSC</tspan></text>
<text x="131" y="306.4" font-size="9" text-anchor="middle" fill="#2a2a2a" stroke="#2a2a2a" stroke-width="0.12" transform="rotate(-90 131 306.4)" textLength="88.2" lengthAdjust="spacingAndGlyphs">% Ly6G<tspan dy="-3" font-size="6">+</tspan><tspan dy="3"> of CCR3</tspan><tspan dy="-3" font-size="6">+</tspan><tspan dy="3"> Eos</tspan></text>
<line x1="394.5" y1="258" x2="394.5" y2="354.75" stroke="#474744" stroke-width="1"/>
<line x1="394.0" y1="354.5" x2="472.8" y2="354.5" stroke="#474744" stroke-width="1"/>
<line x1="391.5" y1="354.5" x2="394.5" y2="354.5" stroke="#474744" stroke-width="1"/>
<text x="388.3" y="356.85" font-size="7.8" text-anchor="end" fill="#2a2a2a" stroke="#2a2a2a" stroke-width="0.12" textLength="3.9" lengthAdjust="spacingAndGlyphs">0</text>
<line x1="391.5" y1="335.5" x2="394.5" y2="335.5" stroke="#474744" stroke-width="1"/>
<text x="388.3" y="337.85" font-size="7.8" text-anchor="end" fill="#2a2a2a" stroke="#2a2a2a" stroke-width="0.12" textLength="7.81" lengthAdjust="spacingAndGlyphs">20</text>
<line x1="391.5" y1="316.5" x2="394.5" y2="316.5" stroke="#474744" stroke-width="1"/>
<text x="388.3" y="318.85" font-size="7.8" text-anchor="end" fill="#2a2a2a" stroke="#2a2a2a" stroke-width="0.12" textLength="7.81" lengthAdjust="spacingAndGlyphs">40</text>
<line x1="391.5" y1="297.5" x2="394.5" y2="297.5" stroke="#474744" stroke-width="1"/>
<text x="388.3" y="299.85" font-size="7.8" text-anchor="end" fill="#2a2a2a" stroke="#2a2a2a" stroke-width="0.12" textLength="7.81" lengthAdjust="spacingAndGlyphs">60</text>
<line x1="391.5" y1="278.5" x2="394.5" y2="278.5" stroke="#474744" stroke-width="1"/>
<text x="388.3" y="280.85" font-size="7.8" text-anchor="end" fill="#2a2a2a" stroke="#2a2a2a" stroke-width="0.12" textLength="7.81" lengthAdjust="spacingAndGlyphs">80</text>
<line x1="391.5" y1="260.5" x2="394.5" y2="260.5" stroke="#474744" stroke-width="1"/>
<text x="388.3" y="262.85" font-size="7.8" text-anchor="end" fill="#2a2a2a" stroke="#2a2a2a" stroke-width="0.12" textLength="11.71" lengthAdjust="spacingAndGlyphs">100</text>
<line x1="414.5" y1="354.25" x2="414.5" y2="357.25" stroke="#474744" stroke-width="1"/>
<line x1="453.5" y1="354.25" x2="453.5" y2="357.25" stroke="#474744" stroke-width="1"/>
<line x1="414.125" y1="334.8345" x2="414.125" y2="335.777" stroke="#444" stroke-width="1"/>
<line x1="407.57125" y1="334.5" x2="420.67875" y2="334.5" stroke="#444" stroke-width="1"/>
<rect x="401.15" y="336.17699999999996" width="25.95" height="18.073000000000015" fill="#4a6189" stroke="#3c5280" stroke-width="0.8"/>
<rect x="440.4" y="276.32824999999997" width="26.2" height="77.92175" fill="#a13445" stroke="#942b3c" stroke-width="0.8"/>
<line x1="417" y1="272.5" x2="447.5" y2="272.5" stroke="#444" stroke-width="1"/>
<text x="432.25" y="272.2" font-size="7.8" text-anchor="middle" fill="#2a2a2a" stroke="#2a2a2a" stroke-width="0.12">****</text>
<text x="414" y="370.5" font-size="8.4" text-anchor="middle" fill="#2a2a2a" stroke="#2a2a2a" stroke-width="0.12">Trib1<tspan dy="-3.3" font-size="5" fill-opacity="0.8">+/+</tspan></text>
<text x="453.4" y="370.5" font-size="8.4" text-anchor="middle" fill="#2a2a2a" stroke="#2a2a2a" stroke-width="0.12">Trib1<tspan dy="-3.3" font-size="5" fill-opacity="0.8">ΔEos</tspan></text>
<text x="369.7" y="306.4" font-size="9" text-anchor="middle" fill="#2a2a2a" stroke="#2a2a2a" stroke-width="0.12" transform="rotate(-90 369.7 306.4)" textLength="87.8" lengthAdjust="spacingAndGlyphs">% Ly6G<tspan dy="-3" font-size="6">+</tspan><tspan dy="3"> of CCR3</tspan><tspan dy="-3" font-size="6">+</tspan><tspan dy="3"> Eos</tspan></text>
<text x="123.1" y="405" font-size="9.3" text-anchor="middle" fill="#2a2a2a" stroke="#2a2a2a" stroke-width="0.12" textLength="49.5" lengthAdjust="spacingAndGlyphs">GMP culture</text>
<rect x="40.9" y="410.3" width="165.1" height="1.5" fill="#8a8a86"/>
<text x="82.5" y="425.5" font-size="9.3" text-anchor="middle" fill="#2a2a2a" stroke="#2a2a2a" stroke-width="0.12">Trib1<tspan dy="-3.6" font-size="6.3" fill-opacity="0.8">+/+</tspan></text>
<text x="181.5" y="425.5" font-size="9.3" text-anchor="middle" fill="#2a2a2a" stroke="#2a2a2a" stroke-width="0.12">Trib1<tspan dy="-3.6" font-size="6.3" fill-opacity="0.8">ΔHSC</tspan></text>
<line x1="22.5" y1="486" x2="22.5" y2="525.5" stroke="#333" stroke-width="1.1"/>
<line x1="21.45" y1="525.5" x2="183" y2="525.5" stroke="#333" stroke-width="1.1"/>
<path d="M179.3 522 L190.4 525.6 L179.3 529.2 L181.8 525.6 Z" fill="#222"/>
<text x="193.8" y="527.8" font-size="9.3" text-anchor="start" fill="#2a2a2a" stroke="#2a2a2a" stroke-width="0.12">Ly6G</text>
<path d="M22 478 L26.2 488.2 L22 486.4 L17.8 488.2 Z" fill="#222"/>
<text x="23.3" y="459" font-size="9.3" text-anchor="middle" fill="#2a2a2a" stroke="#2a2a2a" stroke-width="0.12" transform="rotate(-90 23.3 459)" textLength="28" lengthAdjust="spacingAndGlyphs">SiglecF</text>
<line x1="276.5" y1="407.5" x2="276.5" y2="502.9" stroke="#474744" stroke-width="1"/>
<line x1="276.25" y1="502.5" x2="354.8" y2="502.5" stroke="#474744" stroke-width="1"/>
<line x1="273.75" y1="502.5" x2="276.75" y2="502.5" stroke="#474744" stroke-width="1"/>
<text x="270.55" y="504.85" font-size="7.8" text-anchor="end" fill="#2a2a2a" stroke="#2a2a2a" stroke-width="0.12" textLength="3.9" lengthAdjust="spacingAndGlyphs">0</text>
<line x1="273.75" y1="483.5" x2="276.75" y2="483.5" stroke="#474744" stroke-width="1"/>
<text x="270.55" y="485.85" font-size="7.8" text-anchor="end" fill="#2a2a2a" stroke="#2a2a2a" stroke-width="0.12" textLength="7.81" lengthAdjust="spacingAndGlyphs">20</text>
<line x1="273.75" y1="465.5" x2="276.75" y2="465.5" stroke="#474744" stroke-width="1"/>
<text x="270.55" y="467.85" font-size="7.8" text-anchor="end" fill="#2a2a2a" stroke="#2a2a2a" stroke-width="0.12" textLength="7.81" lengthAdjust="spacingAndGlyphs">40</text>
<line x1="273.75" y1="446.5" x2="276.75" y2="446.5" stroke="#474744" stroke-width="1"/>
<text x="270.55" y="448.85" font-size="7.8" text-anchor="end" fill="#2a2a2a" stroke="#2a2a2a" stroke-width="0.12" textLength="7.81" lengthAdjust="spacingAndGlyphs">60</text>
<line x1="273.75" y1="428.5" x2="276.75" y2="428.5" stroke="#474744" stroke-width="1"/>
<text x="270.55" y="430.85" font-size="7.8" text-anchor="end" fill="#2a2a2a" stroke="#2a2a2a" stroke-width="0.12" textLength="7.81" lengthAdjust="spacingAndGlyphs">80</text>
<line x1="273.75" y1="409.5" x2="276.75" y2="409.5" stroke="#474744" stroke-width="1"/>
<text x="270.55" y="411.85" font-size="7.8" text-anchor="end" fill="#2a2a2a" stroke="#2a2a2a" stroke-width="0.12" textLength="11.71" lengthAdjust="spacingAndGlyphs">100</text>
<line x1="296.5" y1="502.4" x2="296.5" y2="505.4" stroke="#474744" stroke-width="1"/>
<line x1="334.5" y1="502.4" x2="334.5" y2="505.4" stroke="#474744" stroke-width="1"/>
<line x1="287.875" y1="421.18499999999995" x2="287.875" y2="422.84999999999997" stroke="#444" stroke-width="1"/>
<line x1="285.525" y1="421.5" x2="290.225" y2="421.5" stroke="#444" stroke-width="1"/>
<rect x="282.4" y="423.24999999999994" width="10.95" height="79.15" fill="#4a6189" stroke="#3c5280" stroke-width="0.8"/>
<line x1="304.75" y1="486.2125" x2="304.75" y2="488.61749999999995" stroke="#444" stroke-width="1"/>
<line x1="302.45" y1="486.5" x2="307.05" y2="486.5" stroke="#444" stroke-width="1"/>
<rect x="299.4" y="489.0174999999999" width="10.7" height="13.382500000000027" fill="#a13445" stroke="#942b3c" stroke-width="0.8"/>
<rect x="321.9" y="502.7075" width="10.7" height="0.3" fill="#4a6189" stroke="#3c5280" stroke-width="0.8"/>
<line x1="343.75" y1="441.99749999999995" x2="343.75" y2="446.15999999999997" stroke="#444" stroke-width="1"/>
<line x1="341.45" y1="441.5" x2="346.05" y2="441.5" stroke="#444" stroke-width="1"/>
<rect x="338.4" y="446.55999999999995" width="10.7" height="55.84000000000001" fill="#a13445" stroke="#942b3c" stroke-width="0.8"/>
<line x1="284.25" y1="415.5" x2="303.25" y2="415.5" stroke="#444" stroke-width="1"/>
<text x="293.75" y="415.2" font-size="7.8" text-anchor="middle" fill="#2a2a2a" stroke="#2a2a2a" stroke-width="0.12">****</text>
<line x1="326.25" y1="435.5" x2="345.5" y2="435.5" stroke="#444" stroke-width="1"/>
<text x="335.875" y="435.2" font-size="7.8" text-anchor="middle" fill="#2a2a2a" stroke="#2a2a2a" stroke-width="0.12">****</text>
<rect x="313" y="400.2" width="11.4" height="9.6" fill="#4a6189" stroke="#3c5280" stroke-width="0.6"/>
<rect x="313" y="414.2" width="11.4" height="9.6" fill="#a13445" stroke="#942b3c" stroke-width="0.6"/>
<text x="327.3" y="407.9" font-size="7" text-anchor="start" fill="#2a2a2a" stroke="#2a2a2a" stroke-width="0.12">Trib1<tspan dy="-3" font-size="4.6" fill-opacity="0.8">+/+</tspan></text>
<text x="327.3" y="422.3" font-size="7" text-anchor="start" fill="#2a2a2a" stroke="#2a2a2a" stroke-width="0.12">Trib1<tspan dy="-3" font-size="4.6" fill-opacity="0.8">ΔHSC</tspan></text>
<text x="296.4" y="515.0" font-size="7.3" text-anchor="middle" fill="#2a2a2a" stroke="#2a2a2a" stroke-width="0.12" textLength="11.6" lengthAdjust="spacingAndGlyphs">Eos</text>
<text x="334.9" y="515.0" font-size="7.3" text-anchor="middle" fill="#2a2a2a" stroke="#2a2a2a" stroke-width="0.12" textLength="36" lengthAdjust="spacingAndGlyphs">Neutrophil</text>
<text x="251.9" y="455.3" font-size="9" text-anchor="middle" fill="#2a2a2a" stroke="#2a2a2a" stroke-width="0.12" transform="rotate(-90 251.9 455.3)" textLength="98.3" lengthAdjust="spacingAndGlyphs">Granulocytes ex vivo (%)</text>
<line x1="418.5" y1="405.5" x2="418.5" y2="502.9" stroke="#474744" stroke-width="1"/>
<line x1="418.25" y1="502.5" x2="497" y2="502.5" stroke="#474744" stroke-width="1"/>
<line x1="415.75" y1="502.5" x2="418.75" y2="502.5" stroke="#474744" stroke-width="1"/>
<text x="412.55" y="504.85" font-size="7.8" text-anchor="end" fill="#2a2a2a" stroke="#2a2a2a" stroke-width="0.12" textLength="3.9" lengthAdjust="spacingAndGlyphs">0</text>
<line x1="415.75" y1="483.5" x2="418.75" y2="483.5" stroke="#474744" stroke-width="1"/>
<text x="412.55" y="485.85" font-size="7.8" text-anchor="end" fill="#2a2a2a" stroke="#2a2a2a" stroke-width="0.12" textLength="7.81" lengthAdjust="spacingAndGlyphs">20</text>
<line x1="415.75" y1="464.5" x2="418.75" y2="464.5" stroke="#474744" stroke-width="1"/>
<text x="412.55" y="466.85" font-size="7.8" text-anchor="end" fill="#2a2a2a" stroke="#2a2a2a" stroke-width="0.12" textLength="7.81" lengthAdjust="spacingAndGlyphs">40</text>
<line x1="415.75" y1="445.5" x2="418.75" y2="445.5" stroke="#474744" stroke-width="1"/>
<text x="412.55" y="447.85" font-size="7.8" text-anchor="end" fill="#2a2a2a" stroke="#2a2a2a" stroke-width="0.12" textLength="7.81" lengthAdjust="spacingAndGlyphs">60</text>
<line x1="415.75" y1="426.5" x2="418.75" y2="426.5" stroke="#474744" stroke-width="1"/>
<text x="412.55" y="428.85" font-size="7.8" text-anchor="end" fill="#2a2a2a" stroke="#2a2a2a" stroke-width="0.12" textLength="7.81" lengthAdjust="spacingAndGlyphs">80</text>
<line x1="415.75" y1="407.5" x2="418.75" y2="407.5" stroke="#474744" stroke-width="1"/>
<text x="412.55" y="409.85" font-size="7.8" text-anchor="end" fill="#2a2a2a" stroke="#2a2a2a" stroke-width="0.12" textLength="11.71" lengthAdjust="spacingAndGlyphs">100</text>
<line x1="438.5" y1="502.4" x2="438.5" y2="505.4" stroke="#474744" stroke-width="1"/>
<line x1="478.5" y1="502.4" x2="478.5" y2="505.4" stroke="#474744" stroke-width="1"/>
<line x1="438.5" y1="489.45349999999996" x2="438.5" y2="490.68199999999996" stroke="#444" stroke-width="1"/>
<line x1="431.885" y1="489.5" x2="445.115" y2="489.5" stroke="#444" stroke-width="1"/>
<rect x="425.4" y="491.08199999999994" width="26.2" height="11.318000000000017" fill="#4a6189" stroke="#3c5280" stroke-width="0.8"/>
<line x1="478.04999999999995" y1="443.81" x2="478.04999999999995" y2="453.26" stroke="#444" stroke-width="1"/>
<line x1="471.26349999999996" y1="443.5" x2="484.83649999999994" y2="443.5" stroke="#444" stroke-width="1"/>
<rect x="464.59999999999997" y="453.65999999999997" width="26.899999999999988" height="48.73999999999999" fill="#a13445" stroke="#942b3c" stroke-width="0.8"/>
<line x1="443" y1="417.5" x2="473.75" y2="417.5" stroke="#444" stroke-width="1"/>
<text x="458.375" y="417.2" font-size="7.8" text-anchor="middle" fill="#2a2a2a" stroke="#2a2a2a" stroke-width="0.12">***</text>
<text x="438.8" y="518.5" font-size="8.4" text-anchor="middle" fill="#2a2a2a" stroke="#2a2a2a" stroke-width="0.12">Trib1<tspan dy="-3.3" font-size="5" fill-opacity="0.8">+/+</tspan></text>
<text x="478" y="518.5" font-size="8.4" text-anchor="middle" fill="#2a2a2a" stroke="#2a2a2a" stroke-width="0.12">Trib1<tspan dy="-3.3" font-size="5" fill-opacity="0.8">ΔHSC</tspan></text>
<text x="394" y="454.45" font-size="9" text-anchor="middle" fill="#2a2a2a" stroke="#2a2a2a" stroke-width="0.12" transform="rotate(-90 394 454.45)" textLength="87.7" lengthAdjust="spacingAndGlyphs">% Ly6G<tspan dy="-3" font-size="6">+</tspan><tspan dy="3"> of CCR3</tspan><tspan dy="-3" font-size="6">+</tspan><tspan dy="3"> Eos</tspan></text>
<g clip-path="url(#cj1)">
<clipPath id="cj1"><rect x="47.5" y="431.8" width="70.2" height="69.3"/></clipPath>
<path d="M50.9 476.2h0.7 M81.9 466.4h0.7 M49.4 471.3h0.7 M74.7 484.1h0.7 M51.0 457.8h0.7 M77.9 477.2h0.7 M89.5 482.8h0.7 M66.6 469.0h0.7 M104.0 468.8h0.7 M57.0 459.5h0.7 M69.3 473.6h0.7 M63.2 471.3h0.7 M71.8 479.6h0.7 M83.4 474.3h0.7 M48.1 470.1h0.7 M57.1 474.4h0.7 M114.2 471.5h0.7 M79.8 457.4h0.7 M64.0 479.3h0.7 M66.7 476.1h0.7 M69.4 460.9h0.7 M75.9 463.1h0.7 M94.2 466.4h0.7 M77.6 472.0h0.7 M81.3 465.4h0.7 M82.0 470.6h0.7 M85.7 478.9h0.7 M70.0 463.4h0.7 M78.7 477.1h0.7 M91.0 467.9h0.7 M75.8 477.6h0.7 M72.0 474.3h0.7 M70.5 465.4h0.7 M53.8 467.6h0.7 M76.3 488.6h0.7 M81.7 483.6h0.7 M78.9 479.7h0.7 M70.6 480.5h0.7 M92.8 468.4h0.7 M58.3 493.6h0.7 M71.4 482.7h0.7 M80.2 459.5h0.7 M102.1 491.5h0.7 M70.5 480.3h0.7 M69.8 462.3h0.7 M66.4 476.1h0.7 M83.6 479.8h0.7 M68.8 486.9h0.7 M57.3 480.7h0.7 M83.6 468.8h0.7 M71.3 477.8h0.7 M89.7 461.0h0.7 M68.0 479.1h0.7 M65.8 445.9h0.7 M79.3 497.4h0.7 M82.1 461.9h0.7 M62.2 474.4h0.7 M102.8 478.8h0.7 M69.6 489.1h0.7 M66.9 492.5h0.7 M58.4 466.8h0.7 M78.1 487.7h0.7 M77.2 475.3h0.7 M59.5 466.1h0.7 M76.2 468.3h0.7 M79.0 472.9h0.7 M63.3 473.3h0.7 M74.0 481.4h0.7 M61.3 469.4h0.7 M48.9 489.6h0.7 M88.3 470.0h0.7 M61.3 458.4h0.7 M70.4 474.3h0.7 M98.5 474.7h0.7 M57.1 445.1h0.7 M87.7 474.1h0.7 M83.7 478.3h0.7 M65.5 448.5h0.7 M66.2 454.9h0.7 M76.3 448.5h0.7 M55.3 485.4h0.7 M91.0 459.0h0.7 M79.9 461.1h0.7 M58.3 464.4h0.7 M51.3 464.5h0.7 M85.5 479.6h0.7 M96.8 471.1h0.7 M66.1 461.2h0.7 M66.3 457.6h0.7 M88.2 481.2h0.7 M86.7 474.8h0.7 M57.9 472.9h0.7 M62.8 459.8h0.7 M67.9 473.7h0.7 M61.4 487.7h0.7 M70.5 478.4h0.7 M85.1 463.0h0.7 M58.4 486.4h0.7 M72.7 483.1h0.7 M78.7 449.1h0.7 M78.1 464.6h0.7 M57.4 467.2h0.7 M78.8 481.7h0.7 M82.2 453.7h0.7 M59.7 445.9h0.7 M66.6 478.6h0.7 M57.3 474.7h0.7 M71.2 483.1h0.7 M56.5 462.9h0.7 M57.3 491.3h0.7 M83.3 470.6h0.7 M71.2 473.3h0.7 M70.8 469.7h0.7 M63.3 458.2h0.7 M59.0 490.2h0.7 M75.5 472.7h0.7 M65.0 472.7h0.7 M72.9 464.9h0.7 M70.7 474.6h0.7 M57.5 463.3h0.7 M54.0 460.3h0.7 M80.5 446.0h0.7 M64.3 465.3h0.7 M59.3 473.1h0.7 M83.8 472.8h0.7 M66.0 465.3h0.7 M66.2 482.0h0.7 M62.5 459.4h0.7 M50.3 459.8h0.7 M48.5 484.1h0.7 M73.0 469.4h0.7 M88.4 464.8h0.7 M78.5 480.8h0.7 M55.0 482.0h0.7 M86.1 458.5h0.7 M82.7 467.8h0.7 M62.5 465.9h0.7 M63.5 452.0h0.7 M54.0 458.4h0.7" stroke="#444" stroke-width="0.6" fill="none"/>
<path d="M87.6 476.4h0.7 M90.7 462.0h0.7 M80.2 468.5h0.7 M84.4 480.7h0.7 M91.0 474.8h0.7 M88.9 476.5h0.7 M82.3 470.3h0.7 M82.6 483.4h0.7 M80.9 480.9h0.7 M81.2 477.2h0.7 M85.4 469.3h0.7 M93.5 458.5h0.7 M81.0 483.6h0.7 M88.1 460.5h0.7 M95.8 484.5h0.7 M81.8 469.8h0.7 M82.2 466.8h0.7 M89.9 462.6h0.7 M91.1 459.4h0.7 M82.7 480.8h0.7 M86.4 469.7h0.7 M89.5 471.3h0.7 M86.2 458.9h0.7 M91.6 485.1h0.7 M95.6 476.6h0.7 M85.7 468.2h0.7 M91.0 476.9h0.7 M81.8 464.6h0.7 M85.8 472.3h0.7 M93.0 472.0h0.7 M80.5 481.0h0.7 M86.9 472.5h0.7 M83.6 470.0h0.7 M86.2 479.6h0.7 M81.6 473.4h0.7 M82.8 477.5h0.7 M80.6 465.7h0.7 M85.5 475.8h0.7 M80.8 470.9h0.7 M83.3 465.9h0.7 M87.6 484.8h0.7 M87.7 484.8h0.7 M82.7 483.9h0.7 M85.8 463.3h0.7 M92.0 483.5h0.7 M80.1 465.5h0.7 M92.3 467.6h0.7 M83.9 458.2h0.7 M80.6 475.3h0.7 M95.7 486.0h0.7 M88.1 458.7h0.7 M85.2 480.0h0.7 M93.3 475.9h0.7 M83.7 472.8h0.7 M87.6 475.6h0.7 M84.2 484.5h0.7 M94.3 462.5h0.7 M84.7 482.4h0.7 M84.5 484.4h0.7 M88.2 477.5h0.7 M91.3 464.0h0.7 M84.6 465.1h0.7 M90.9 477.4h0.7 M82.1 482.8h0.7 M86.7 464.8h0.7 M87.0 485.4h0.7 M89.0 475.5h0.7 M94.7 484.9h0.7 M92.2 469.7h0.7 M89.4 483.2h0.7 M92.6 474.2h0.7 M85.6 468.3h0.7 M91.8 473.8h0.7 M80.3 477.9h0.7 M94.5 480.3h0.7 M94.4 483.5h0.7 M88.6 480.1h0.7 M86.1 460.8h0.7 M85.7 466.7h0.7 M94.9 477.3h0.7" stroke="#444" stroke-width="0.6" fill="none"/>
<path d="M76.4 496.6h0.7 M69.9 492.2h0.7 M64.5 499.9h0.7 M60.2 486.4h0.7 M59.0 488.2h0.7 M61.7 488.3h0.7 M52.5 489.2h0.7 M61.1 493.1h0.7 M56.5 485.1h0.7 M56.5 492.7h0.7 M64.3 495.7h0.7 M81.7 490.6h0.7 M52.2 495.6h0.7 M79.7 490.3h0.7 M75.6 488.8h0.7 M86.4 497.3h0.7 M81.3 499.3h0.7 M57.8 492.7h0.7 M78.7 496.8h0.7 M64.4 486.2h0.7 M74.3 485.7h0.7 M77.6 484.1h0.7 M67.1 491.7h0.7 M53.0 491.7h0.7 M69.0 489.9h0.7 M85.6 497.9h0.7 M85.4 487.9h0.7 M49.1 490.0h0.7 M52.8 495.3h0.7 M59.0 486.1h0.7 M59.9 490.5h0.7 M78.9 491.4h0.7 M60.6 494.8h0.7 M49.9 487.3h0.7 M76.9 496.0h0.7 M52.3 485.1h0.7 M69.2 494.5h0.7 M48.7 491.0h0.7 M59.5 485.4h0.7 M55.2 488.6h0.7 M67.6 485.8h0.7 M74.1 498.1h0.7 M76.7 485.1h0.7 M75.2 494.1h0.7 M48.4 490.2h0.7 M75.4 499.2h0.7 M87.0 493.1h0.7 M72.7 499.3h0.7 M56.8 492.1h0.7 M50.6 496.4h0.7 M75.5 487.4h0.7 M56.3 492.4h0.7 M79.6 486.2h0.7 M61.6 492.2h0.7 M59.0 498.2h0.7 M78.5 499.3h0.7 M74.9 494.9h0.7 M60.0 492.1h0.7 M66.0 491.7h0.7 M50.6 497.6h0.7" stroke="#444" stroke-width="0.6" fill="none"/>
<path d="M68.3 463.4h0.7 M67.6 453.0h0.7 M61.0 457.1h0.7 M59.7 453.6h0.7 M52.2 457.3h0.7 M52.9 457.5h0.7 M48.5 453.0h0.7 M63.6 457.1h0.7 M59.3 460.8h0.7 M55.9 452.7h0.7 M65.2 459.1h0.7 M62.5 459.5h0.7 M69.4 456.4h0.7 M64.7 456.4h0.7 M60.6 459.9h0.7 M54.9 453.0h0.7 M58.4 460.6h0.7 M61.0 457.4h0.7 M62.1 454.2h0.7 M51.9 455.9h0.7 M65.9 454.3h0.7 M50.5 453.2h0.7 M48.9 455.3h0.7 M60.6 461.8h0.7 M55.3 456.4h0.7 M54.3 455.7h0.7 M65.1 458.6h0.7 M53.7 453.3h0.7 M65.2 460.5h0.7 M66.2 454.9h0.7" stroke="#444" stroke-width="0.6" fill="none"/>
<path d="M62 461.0 C97.0 458.9 97.0 484.1 62 482.0" fill="none" stroke="#888" stroke-width="0.5"/>
<path d="M62 463.0 C90.8 461.3 90.8 481.7 62 480.0" fill="none" stroke="#777" stroke-width="0.5"/>
<path d="M62 464.9 C84.5 463.6 84.5 479.4 62 478.1" fill="none" stroke="#6a6a6a" stroke-width="0.5"/>
<path d="M62 466.7 C78.9 465.7 78.9 477.3 62 476.3" fill="none" stroke="#606060" stroke-width="0.5"/>
<path d="M62 468.3 C73.9 467.7 73.9 475.3 62 474.7" fill="none" stroke="#555" stroke-width="0.5"/>
<path d="M69.24 490.50 L69.19 491.32 L69.22 492.19 L69.11 493.12 L68.63 494.03 L67.74 494.86 L66.51 495.55 L65.07 496.11 L63.50 496.58 L61.81 496.95 L60.00 497.17 L58.13 497.15 L56.35 496.83 L54.78 496.27 L53.47 495.57 L52.33 494.82 L51.24 494.09 L50.15 493.33 L49.21 492.48 L48.63 491.51 L48.62 490.50 L49.19 489.53 L50.15 488.70 L51.25 487.99 L52.27 487.34 L53.19 486.66 L54.12 485.94 L55.24 485.23 L56.62 484.64 L58.24 484.22 L60.00 483.99 L61.85 483.93 L63.75 484.00 L65.66 484.24 L67.45 484.72 L68.89 485.49 L69.78 486.49 L70.06 487.61 L69.87 488.69 L69.50 489.65 Z" fill="none" stroke="#7a7a7a" stroke-width="0.45" opacity="0.85"/>
<path d="M67.06 490.50 L67.44 491.16 L67.67 491.90 L67.57 492.67 L67.09 493.40 L66.26 494.03 L65.21 494.55 L64.02 494.95 L62.73 495.23 L61.37 495.36 L60.00 495.28 L58.74 494.99 L57.68 494.52 L56.83 494.01 L56.09 493.53 L55.31 493.14 L54.41 492.79 L53.42 492.39 L52.52 491.87 L51.90 491.22 L51.68 490.50 L51.82 489.77 L52.20 489.07 L52.72 488.41 L53.33 487.77 L54.08 487.17 L55.04 486.65 L56.18 486.28 L57.45 486.08 L58.74 486.02 L60.00 486.04 L61.24 486.10 L62.47 486.21 L63.69 486.42 L64.78 486.79 L65.60 487.34 L66.11 488.00 L66.35 488.68 L66.49 489.31 L66.71 489.90 Z" fill="none" stroke="#7a7a7a" stroke-width="0.45" opacity="0.85"/>
<path d="M64.97 490.50 L65.03 490.95 L64.92 491.40 L64.60 491.82 L64.11 492.18 L63.53 492.49 L62.91 492.76 L62.28 493.02 L61.59 493.26 L60.82 493.43 L60.00 493.47 L59.20 493.36 L58.50 493.11 L57.94 492.78 L57.50 492.44 L57.08 492.15 L56.62 491.88 L56.12 491.61 L55.64 491.30 L55.26 490.92 L55.04 490.50 L54.96 490.05 L55.01 489.59 L55.18 489.12 L55.49 488.65 L56.00 488.25 L56.71 487.95 L57.56 487.80 L58.45 487.81 L59.27 487.92 L60.00 488.05 L60.66 488.15 L61.32 488.21 L62.02 488.26 L62.73 488.38 L63.38 488.59 L63.91 488.90 L64.29 489.27 L64.58 489.66 L64.81 490.07 Z" fill="none" stroke="#7a7a7a" stroke-width="0.45" opacity="0.85"/>
<path d="M66 486 L69 490 L72 487 L75 492 L78 488 L81 491 L84 487" fill="none" stroke="#888" stroke-width="0.45"/>
<path d="M66 493 L70 496 L74 492 L78 495 L82 493" fill="none" stroke="#999" stroke-width="0.45"/>
<path d="M67.51 470.50 L67.34 472.72 L66.94 474.86 L66.31 476.85 L65.42 478.59 L64.31 479.97 L63.06 480.94 L61.76 481.58 L60.50 482.05 L59.27 482.50 L58.00 482.96 L56.65 483.33 L55.21 483.39 L53.77 482.97 L52.43 481.99 L51.29 480.56 L50.38 478.81 L49.66 476.88 L49.12 474.83 L48.79 472.69 L48.71 470.50 L48.93 468.34 L49.43 466.32 L50.14 464.49 L50.97 462.84 L51.87 461.30 L52.85 459.86 L53.95 458.59 L55.21 457.64 L56.59 457.15 L58.00 457.17 L59.36 457.61 L60.64 458.31 L61.87 459.11 L63.09 459.99 L64.31 461.04 L65.45 462.38 L66.41 464.07 L67.08 466.07 L67.44 468.26 Z" fill="none" stroke="#777" stroke-width="0.5" opacity="0.85"/>
<path d="M65.61 470.50 L65.40 472.26 L65.02 473.92 L64.55 475.51 L64.01 477.05 L63.36 478.54 L62.55 479.88 L61.55 480.94 L60.40 481.57 L59.19 481.76 L58.00 481.58 L56.88 481.15 L55.82 480.57 L54.82 479.86 L53.89 478.99 L53.06 477.91 L52.35 476.65 L51.77 475.26 L51.28 473.77 L50.86 472.20 L50.50 470.50 L50.29 468.67 L50.34 466.77 L50.73 464.94 L51.45 463.37 L52.43 462.15 L53.54 461.30 L54.68 460.71 L55.79 460.30 L56.89 460.01 L58.00 459.89 L59.11 460.00 L60.19 460.41 L61.20 461.07 L62.15 461.93 L63.04 462.94 L63.89 464.09 L64.64 465.43 L65.23 466.98 L65.56 468.70 Z" fill="none" stroke="#777" stroke-width="0.5" opacity="0.85"/>
<path d="M63.91 470.50 L63.89 471.90 L63.68 473.27 L63.28 474.53 L62.74 475.66 L62.12 476.67 L61.44 477.59 L60.69 478.42 L59.86 479.08 L58.95 479.47 L58.00 479.50 L57.09 479.15 L56.26 478.53 L55.53 477.76 L54.88 476.95 L54.25 476.13 L53.64 475.25 L53.07 474.26 L52.61 473.13 L52.29 471.86 L52.13 470.50 L52.10 469.10 L52.21 467.68 L52.47 466.27 L52.91 464.95 L53.55 463.83 L54.37 463.00 L55.29 462.53 L56.24 462.36 L57.14 462.37 L58.00 462.45 L58.84 462.55 L59.69 462.71 L60.53 463.04 L61.34 463.61 L62.05 464.43 L62.63 465.45 L63.10 466.60 L63.47 467.83 L63.75 469.13 Z" fill="none" stroke="#777" stroke-width="0.5" opacity="0.85"/>
<path d="M62.37 470.50 L62.34 471.53 L62.14 472.52 L61.77 473.38 L61.30 474.10 L60.80 474.70 L60.28 475.21 L59.76 475.68 L59.21 476.08 L58.62 476.39 L58.00 476.55 L57.36 476.55 L56.72 476.42 L56.07 476.17 L55.44 475.80 L54.83 475.26 L54.30 474.54 L53.91 473.62 L53.72 472.59 L53.71 471.52 L53.84 470.50 L54.05 469.56 L54.27 468.68 L54.51 467.83 L54.80 467.01 L55.16 466.24 L55.61 465.57 L56.15 465.05 L56.74 464.68 L57.36 464.42 L58.00 464.27 L58.66 464.23 L59.33 464.37 L59.96 464.72 L60.53 465.28 L61.01 465.99 L61.39 466.80 L61.72 467.65 L62.01 468.54 L62.24 469.49 Z" fill="none" stroke="#777" stroke-width="0.5" opacity="0.85"/>
<path d="M60.59 470.50 L60.56 471.11 L60.45 471.69 L60.27 472.23 L60.03 472.71 L59.76 473.14 L59.47 473.53 L59.14 473.86 L58.78 474.11 L58.40 474.25 L58.00 474.26 L57.61 474.17 L57.24 474.02 L56.87 473.83 L56.49 473.61 L56.12 473.32 L55.78 472.92 L55.50 472.41 L55.33 471.80 L55.28 471.15 L55.33 470.50 L55.44 469.89 L55.60 469.33 L55.79 468.81 L56.02 468.34 L56.29 467.93 L56.59 467.60 L56.92 467.33 L57.26 467.10 L57.62 466.90 L58.00 466.72 L58.41 466.61 L58.84 466.63 L59.26 466.80 L59.62 467.15 L59.92 467.62 L60.14 468.17 L60.31 468.73 L60.44 469.31 L60.54 469.90 Z" fill="none" stroke="#777" stroke-width="0.5" opacity="0.85"/>
<path d="M62.07 471.50 L62.09 473.07 L61.92 474.60 L61.60 476.02 L61.15 477.25 L60.62 478.30 L60.04 479.16 L59.41 479.85 L58.76 480.32 L58.08 480.55 L57.40 480.54 L56.74 480.33 L56.09 480.00 L55.46 479.56 L54.82 479.00 L54.19 478.27 L53.63 477.29 L53.17 476.05 L52.87 474.60 L52.75 473.06 L52.76 471.50 L52.89 469.99 L53.10 468.55 L53.38 467.18 L53.76 465.91 L54.22 464.79 L54.78 463.88 L55.39 463.19 L56.05 462.70 L56.71 462.37 L57.40 462.20 L58.10 462.22 L58.79 462.49 L59.44 463.04 L60.03 463.87 L60.52 464.90 L60.95 466.06 L61.32 467.28 L61.65 468.59 L61.91 469.99 Z" fill="none" stroke="#3a3a3a" stroke-width="0.6" opacity="0.85"/>
<path d="M61.19 471.50 L61.16 472.76 L61.00 473.97 L60.75 475.11 L60.43 476.15 L60.06 477.12 L59.63 477.99 L59.14 478.72 L58.60 479.26 L58.01 479.58 L57.40 479.66 L56.80 479.56 L56.20 479.29 L55.62 478.87 L55.07 478.27 L54.58 477.45 L54.20 476.41 L53.94 475.22 L53.81 473.96 L53.78 472.71 L53.81 471.50 L53.88 470.32 L53.98 469.15 L54.14 467.99 L54.38 466.87 L54.72 465.83 L55.14 464.94 L55.64 464.19 L56.18 463.61 L56.78 463.19 L57.40 463.00 L58.03 463.08 L58.64 463.46 L59.18 464.11 L59.65 464.97 L60.04 465.93 L60.37 466.95 L60.66 467.99 L60.92 469.09 L61.10 470.26 Z" fill="none" stroke="#3a3a3a" stroke-width="0.6" opacity="0.85"/>
<path d="M60.58 471.50 L60.56 472.56 L60.47 473.61 L60.30 474.62 L60.05 475.56 L59.70 476.35 L59.28 476.97 L58.83 477.42 L58.36 477.72 L57.88 477.91 L57.40 478.02 L56.91 478.01 L56.42 477.84 L55.96 477.45 L55.56 476.86 L55.22 476.11 L54.94 475.27 L54.72 474.39 L54.53 473.47 L54.39 472.51 L54.30 471.50 L54.30 470.46 L54.39 469.43 L54.56 468.44 L54.80 467.52 L55.11 466.66 L55.47 465.90 L55.90 465.28 L56.38 464.86 L56.89 464.69 L57.40 464.78 L57.88 465.07 L58.32 465.50 L58.73 465.98 L59.12 466.50 L59.50 467.07 L59.85 467.75 L60.15 468.55 L60.37 469.46 L60.52 470.46 Z" fill="none" stroke="#3a3a3a" stroke-width="0.6" opacity="0.85"/>
<path d="M59.90 471.50 L59.79 472.30 L59.64 473.03 L59.47 473.72 L59.28 474.38 L59.06 475.00 L58.79 475.55 L58.49 476.00 L58.14 476.34 L57.78 476.56 L57.40 476.68 L57.01 476.70 L56.62 476.58 L56.24 476.31 L55.90 475.87 L55.61 475.28 L55.38 474.59 L55.22 473.85 L55.09 473.09 L55.00 472.30 L54.94 471.50 L54.95 470.68 L55.03 469.87 L55.19 469.12 L55.42 468.47 L55.70 467.92 L56.01 467.45 L56.33 467.07 L56.67 466.75 L57.03 466.52 L57.40 466.41 L57.78 466.44 L58.15 466.60 L58.52 466.87 L58.87 467.24 L59.20 467.71 L59.49 468.29 L59.73 468.99 L59.88 469.80 L59.94 470.65 Z" fill="none" stroke="#3a3a3a" stroke-width="0.6" opacity="0.85"/>
<path d="M59.21 471.50 L59.21 472.11 L59.16 472.71 L59.04 473.27 L58.88 473.77 L58.68 474.21 L58.46 474.57 L58.21 474.86 L57.95 475.05 L57.67 475.14 L57.40 475.12 L57.14 475.00 L56.89 474.83 L56.65 474.61 L56.41 474.37 L56.17 474.09 L55.95 473.72 L55.76 473.26 L55.62 472.72 L55.55 472.12 L55.54 471.50 L55.59 470.89 L55.67 470.31 L55.79 469.77 L55.95 469.27 L56.14 468.85 L56.37 468.50 L56.62 468.25 L56.87 468.07 L57.13 467.95 L57.40 467.88 L57.67 467.87 L57.95 467.95 L58.21 468.14 L58.45 468.45 L58.65 468.86 L58.81 469.33 L58.95 469.83 L59.06 470.36 L59.15 470.91 Z" fill="none" stroke="#3a3a3a" stroke-width="0.6" opacity="0.85"/>
<path d="M58.55 471.50 L58.54 471.88 L58.49 472.25 L58.41 472.58 L58.30 472.88 L58.18 473.14 L58.04 473.36 L57.89 473.52 L57.73 473.63 L57.56 473.67 L57.40 473.66 L57.24 473.63 L57.08 473.57 L56.92 473.48 L56.76 473.36 L56.61 473.17 L56.48 472.92 L56.38 472.60 L56.32 472.24 L56.29 471.87 L56.29 471.50 L56.31 471.14 L56.35 470.78 L56.42 470.44 L56.51 470.14 L56.63 469.88 L56.77 469.66 L56.92 469.49 L57.07 469.36 L57.23 469.27 L57.40 469.22 L57.57 469.23 L57.74 469.32 L57.89 469.48 L58.02 469.69 L58.15 469.93 L58.26 470.19 L58.36 470.47 L58.45 470.78 L58.51 471.13 Z" fill="none" stroke="#3a3a3a" stroke-width="0.6" opacity="0.85"/>
<ellipse cx="56" cy="472" rx="1.2" ry="7" fill="#222" opacity="0.7"/>
<ellipse cx="59" cy="472" rx="1.1" ry="6.5" fill="#222" opacity="0.6"/>
</g>
<clipPath id="cj2"><rect x="146.5" y="431.8" width="70.6" height="69.5"/></clipPath>
<g clip-path="url(#cj2)">
<path d="M182.1 494.2h0.7 M162.2 472.4h0.7 M176.9 498.3h0.7 M177.5 469.8h0.7 M162.5 480.8h0.7 M184.5 481.2h0.7 M167.8 479.1h0.7 M174.6 474.0h0.7 M172.4 483.9h0.7 M193.3 480.7h0.7 M184.7 471.2h0.7 M183.3 482.9h0.7 M165.6 481.1h0.7 M183.9 478.2h0.7 M185.5 496.2h0.7 M193.1 497.2h0.7 M156.2 484.7h0.7 M163.7 490.6h0.7 M173.4 483.5h0.7 M178.3 475.5h0.7 M173.7 474.3h0.7 M199.0 476.9h0.7 M172.7 464.0h0.7 M153.6 473.1h0.7 M182.6 488.9h0.7 M176.1 475.1h0.7 M196.1 471.3h0.7 M161.6 486.1h0.7 M159.8 484.0h0.7 M184.8 480.7h0.7 M177.7 481.7h0.7 M163.9 450.2h0.7 M156.9 481.3h0.7 M151.5 475.8h0.7 M175.1 494.5h0.7 M155.0 476.1h0.7 M175.3 486.5h0.7 M154.8 499.7h0.7 M162.0 492.1h0.7 M169.9 485.4h0.7 M193.8 488.3h0.7 M174.1 471.4h0.7 M164.1 467.3h0.7 M198.4 466.0h0.7 M188.9 477.8h0.7 M183.2 473.2h0.7 M165.0 486.3h0.7 M177.5 476.8h0.7 M193.3 488.6h0.7 M174.2 469.6h0.7 M174.2 478.2h0.7 M171.5 489.3h0.7 M165.0 484.0h0.7 M182.7 484.8h0.7 M202.0 464.0h0.7 M171.6 469.6h0.7 M151.3 478.4h0.7 M180.8 482.2h0.7 M184.2 465.9h0.7 M185.0 471.8h0.7 M156.7 486.9h0.7 M178.5 474.0h0.7 M161.8 479.3h0.7 M172.2 479.6h0.7 M159.2 458.2h0.7 M189.3 483.0h0.7 M156.3 465.6h0.7 M163.4 477.1h0.7 M177.8 478.0h0.7 M176.8 483.5h0.7 M186.0 482.7h0.7 M188.6 496.6h0.7 M168.2 476.7h0.7 M160.8 478.9h0.7 M162.9 481.3h0.7 M176.2 486.5h0.7 M157.3 491.9h0.7 M168.2 480.0h0.7 M165.6 461.3h0.7 M175.5 463.5h0.7 M186.5 481.5h0.7 M192.4 487.6h0.7 M181.3 495.1h0.7 M171.6 496.4h0.7 M170.5 483.7h0.7 M163.4 486.5h0.7 M180.8 476.1h0.7 M155.6 480.8h0.7 M177.6 479.5h0.7 M159.5 473.9h0.7 M168.7 455.0h0.7 M164.6 495.4h0.7 M155.5 478.9h0.7 M194.0 488.2h0.7 M184.1 479.6h0.7 M176.0 483.5h0.7 M193.4 489.2h0.7 M172.9 470.1h0.7 M170.1 479.6h0.7 M163.4 472.5h0.7 M159.2 479.9h0.7 M164.4 485.1h0.7 M185.2 484.2h0.7 M172.4 496.6h0.7 M180.6 466.4h0.7 M162.8 483.0h0.7 M160.7 488.6h0.7 M149.4 462.1h0.7 M184.8 486.8h0.7 M151.4 481.8h0.7 M189.5 470.0h0.7 M156.7 468.9h0.7 M159.3 463.8h0.7 M165.8 466.6h0.7 M158.5 490.1h0.7 M187.2 458.0h0.7 M173.5 480.9h0.7 M167.7 489.0h0.7 M166.3 484.5h0.7 M167.0 479.7h0.7 M171.3 469.9h0.7 M197.3 496.7h0.7 M169.5 474.5h0.7 M162.5 493.3h0.7 M167.8 473.9h0.7 M182.9 478.3h0.7 M171.3 500.3h0.7 M183.2 493.4h0.7 M177.4 493.8h0.7 M169.8 490.6h0.7 M185.6 476.9h0.7 M155.4 486.4h0.7 M170.5 487.1h0.7 M164.2 486.3h0.7 M195.2 484.9h0.7 M190.6 474.8h0.7 M187.2 482.4h0.7 M189.2 484.3h0.7 M169.0 473.9h0.7 M188.3 481.6h0.7 M181.3 485.8h0.7 M167.2 484.9h0.7" stroke="#444" stroke-width="0.6" fill="none"/>
<path d="M193.9 465.1h0.7 M168.6 484.0h0.7 M173.0 464.7h0.7 M185.6 469.6h0.7 M192.0 467.1h0.7 M193.9 469.0h0.7 M184.2 482.5h0.7 M186.5 482.3h0.7 M187.1 463.1h0.7 M191.8 475.0h0.7 M176.4 466.2h0.7 M190.9 474.8h0.7 M193.3 479.0h0.7 M194.0 474.5h0.7 M186.9 475.5h0.7 M175.0 483.0h0.7 M176.4 479.2h0.7 M193.8 476.3h0.7 M171.8 480.2h0.7 M186.0 466.1h0.7 M169.3 473.7h0.7 M168.9 482.4h0.7 M181.7 473.4h0.7 M179.1 476.5h0.7 M192.7 468.8h0.7 M178.1 474.8h0.7 M176.0 475.1h0.7 M182.7 471.5h0.7 M186.2 473.6h0.7 M170.4 483.9h0.7 M177.6 471.5h0.7 M178.9 482.4h0.7 M193.7 473.3h0.7 M178.8 464.1h0.7 M192.2 465.8h0.7 M182.8 469.7h0.7 M176.9 469.9h0.7 M173.2 462.8h0.7 M182.5 479.5h0.7 M185.5 466.4h0.7 M186.7 463.1h0.7 M179.1 480.2h0.7 M192.9 472.1h0.7 M190.9 473.0h0.7 M182.1 474.9h0.7 M194.8 478.4h0.7 M180.8 478.0h0.7 M185.4 469.8h0.7 M189.2 480.0h0.7 M184.4 482.7h0.7" stroke="#444" stroke-width="0.6" fill="none"/>
<path d="M164.70 483.00 L164.55 485.10 L164.30 487.17 L163.90 489.21 L163.28 491.11 L162.43 492.77 L161.38 494.06 L160.21 494.98 L158.98 495.57 L157.74 495.91 L156.50 496.02 L155.26 495.89 L154.04 495.45 L152.89 494.66 L151.83 493.58 L150.87 492.26 L149.99 490.79 L149.17 489.15 L148.44 487.31 L147.90 485.24 L147.64 483.00 L147.75 480.72 L148.22 478.57 L148.97 476.68 L149.88 475.08 L150.86 473.72 L151.88 472.54 L152.95 471.53 L154.08 470.76 L155.28 470.27 L156.50 470.10 L157.73 470.22 L158.95 470.56 L160.17 471.13 L161.37 471.96 L162.50 473.13 L163.45 474.69 L164.15 476.58 L164.56 478.69 L164.72 480.86 Z" fill="none" stroke="#4a4a4a" stroke-width="0.5" opacity="0.85"/>
<path d="M163.55 482.47 L163.52 484.34 L163.23 486.14 L162.74 487.82 L162.12 489.36 L161.41 490.77 L160.59 492.05 L159.67 493.14 L158.63 493.94 L157.51 494.39 L156.37 494.47 L155.24 494.24 L154.14 493.75 L153.10 493.04 L152.12 492.09 L151.27 490.87 L150.60 489.38 L150.14 487.70 L149.90 485.94 L149.80 484.19 L149.78 482.47 L149.79 480.76 L149.86 478.99 L150.06 477.18 L150.46 475.41 L151.10 473.80 L151.95 472.47 L152.96 471.45 L154.05 470.75 L155.20 470.35 L156.37 470.26 L157.52 470.53 L158.60 471.17 L159.57 472.14 L160.39 473.35 L161.11 474.67 L161.75 476.04 L162.35 477.46 L162.90 478.98 L163.33 480.66 Z" fill="none" stroke="#4a4a4a" stroke-width="0.5" opacity="0.85"/>
<path d="M162.54 481.95 L162.52 483.58 L162.32 485.20 L161.93 486.72 L161.34 488.05 L160.59 489.12 L159.75 489.91 L158.88 490.48 L158.01 490.91 L157.13 491.26 L156.24 491.52 L155.31 491.59 L154.38 491.37 L153.49 490.82 L152.70 489.97 L152.01 488.90 L151.43 487.70 L150.92 486.40 L150.51 485.01 L150.21 483.52 L150.07 481.95 L150.13 480.35 L150.36 478.81 L150.75 477.34 L151.24 475.98 L151.84 474.72 L152.56 473.61 L153.39 472.74 L154.32 472.21 L155.29 472.06 L156.24 472.26 L157.13 472.68 L157.96 473.20 L158.77 473.77 L159.57 474.40 L160.35 475.17 L161.08 476.16 L161.68 477.38 L162.13 478.79 L162.42 480.34 Z" fill="none" stroke="#4a4a4a" stroke-width="0.5" opacity="0.85"/>
<path d="M161.26 481.42 L161.17 482.74 L160.91 483.99 L160.54 485.14 L160.10 486.20 L159.61 487.19 L159.05 488.10 L158.41 488.87 L157.68 489.41 L156.90 489.66 L156.11 489.61 L155.35 489.31 L154.64 488.85 L153.97 488.31 L153.34 487.69 L152.74 486.96 L152.21 486.08 L151.76 485.07 L151.42 483.93 L151.19 482.70 L151.05 481.42 L151.01 480.09 L151.09 478.74 L151.35 477.43 L151.79 476.26 L152.40 475.32 L153.12 474.65 L153.88 474.24 L154.64 473.99 L155.38 473.83 L156.11 473.74 L156.84 473.75 L157.58 473.93 L158.30 474.32 L158.97 474.93 L159.57 475.72 L160.10 476.64 L160.56 477.68 L160.93 478.84 L161.18 480.10 Z" fill="none" stroke="#4a4a4a" stroke-width="0.5" opacity="0.85"/>
<path d="M160.00 480.89 L159.92 481.92 L159.74 482.91 L159.46 483.82 L159.08 484.61 L158.63 485.26 L158.14 485.81 L157.64 486.28 L157.12 486.70 L156.57 487.04 L155.97 487.26 L155.36 487.28 L154.76 487.06 L154.20 486.62 L153.71 486.03 L153.27 485.35 L152.87 484.61 L152.51 483.80 L152.21 482.91 L152.01 481.93 L151.93 480.89 L151.99 479.86 L152.17 478.86 L152.44 477.93 L152.78 477.08 L153.20 476.32 L153.68 475.70 L154.23 475.24 L154.81 474.99 L155.40 474.92 L155.97 474.96 L156.53 475.06 L157.10 475.19 L157.68 475.38 L158.27 475.70 L158.82 476.21 L159.29 476.92 L159.65 477.81 L159.88 478.81 L159.99 479.85 Z" fill="none" stroke="#4a4a4a" stroke-width="0.5" opacity="0.85"/>
<path d="M158.63 480.37 L158.59 481.08 L158.46 481.77 L158.28 482.41 L158.05 483.01 L157.78 483.56 L157.47 484.06 L157.11 484.47 L156.71 484.76 L156.28 484.92 L155.84 484.96 L155.40 484.92 L154.97 484.80 L154.53 484.60 L154.11 484.30 L153.73 483.85 L153.43 483.26 L153.23 482.56 L153.13 481.82 L153.12 481.08 L153.16 480.37 L153.23 479.69 L153.33 479.03 L153.48 478.39 L153.68 477.78 L153.94 477.23 L154.24 476.75 L154.59 476.32 L154.97 475.96 L155.39 475.67 L155.84 475.49 L156.31 475.49 L156.77 475.67 L157.18 476.04 L157.53 476.54 L157.82 477.11 L158.06 477.71 L158.28 478.33 L158.46 478.97 L158.58 479.65 Z" fill="none" stroke="#4a4a4a" stroke-width="0.5" opacity="0.85"/>
<path d="M157.43 479.84 L157.45 480.30 L157.43 480.76 L157.35 481.22 L157.21 481.63 L157.00 481.97 L156.76 482.22 L156.50 482.38 L156.23 482.49 L155.97 482.54 L155.71 482.56 L155.45 482.51 L155.21 482.40 L154.97 482.24 L154.75 482.02 L154.54 481.77 L154.34 481.49 L154.15 481.15 L153.99 480.76 L153.90 480.32 L153.87 479.84 L153.91 479.37 L154.02 478.94 L154.16 478.54 L154.32 478.18 L154.50 477.85 L154.70 477.56 L154.93 477.31 L155.18 477.14 L155.44 477.06 L155.71 477.05 L155.97 477.11 L156.23 477.21 L156.48 477.36 L156.71 477.57 L156.92 477.85 L157.09 478.19 L157.22 478.57 L157.32 478.98 L157.38 479.41 Z" fill="none" stroke="#4a4a4a" stroke-width="0.5" opacity="0.85"/>
<path d="M189.49 474.00 L189.43 475.36 L189.28 476.74 L188.98 478.12 L188.46 479.44 L187.70 480.60 L186.71 481.51 L185.57 482.12 L184.38 482.47 L183.18 482.60 L182.00 482.57 L180.85 482.38 L179.75 482.02 L178.72 481.45 L177.78 480.72 L176.94 479.86 L176.17 478.91 L175.43 477.87 L174.76 476.72 L174.22 475.43 L173.91 474.00 L173.92 472.52 L174.26 471.09 L174.89 469.81 L175.70 468.70 L176.61 467.76 L177.58 466.95 L178.60 466.27 L179.69 465.76 L180.83 465.46 L182.00 465.41 L183.15 465.58 L184.27 465.92 L185.34 466.40 L186.38 467.01 L187.35 467.80 L188.19 468.79 L188.83 469.97 L189.24 471.28 L189.44 472.64 Z" fill="none" stroke="#555" stroke-width="0.5" opacity="0.85"/>
<path d="M189.19 474.00 L189.12 475.23 L188.81 476.42 L188.34 477.51 L187.75 478.50 L187.08 479.43 L186.32 480.26 L185.46 480.97 L184.49 481.48 L183.46 481.75 L182.39 481.78 L181.36 481.60 L180.36 481.26 L179.41 480.78 L178.53 480.15 L177.77 479.36 L177.16 478.41 L176.72 477.35 L176.45 476.23 L176.29 475.12 L176.18 474.00 L176.11 472.85 L176.14 471.65 L176.32 470.42 L176.74 469.24 L177.40 468.22 L178.26 467.40 L179.24 466.82 L180.28 466.46 L181.34 466.27 L182.39 466.27 L183.43 466.46 L184.40 466.87 L185.28 467.45 L186.05 468.17 L186.75 468.95 L187.41 469.78 L188.03 470.68 L188.58 471.67 L189.00 472.79 Z" fill="none" stroke="#555" stroke-width="0.5" opacity="0.85"/>
<path d="M188.12 474.00 L187.99 474.95 L187.76 475.87 L187.48 476.77 L187.15 477.66 L186.73 478.56 L186.18 479.41 L185.48 480.12 L184.65 480.62 L183.72 480.84 L182.79 480.81 L181.89 480.58 L181.04 480.23 L180.25 479.77 L179.52 479.22 L178.86 478.54 L178.33 477.75 L177.92 476.87 L177.64 475.94 L177.46 474.98 L177.37 474.00 L177.36 473.00 L177.48 472.00 L177.77 471.04 L178.23 470.16 L178.84 469.43 L179.55 468.83 L180.30 468.34 L181.08 467.92 L181.91 467.56 L182.79 467.32 L183.71 467.27 L184.62 467.46 L185.47 467.91 L186.21 468.55 L186.82 469.34 L187.31 470.20 L187.70 471.10 L187.98 472.05 L188.12 473.02 Z" fill="none" stroke="#555" stroke-width="0.5" opacity="0.85"/>
<path d="M187.62 474.00 L187.53 474.80 L187.36 475.57 L187.12 476.32 L186.77 477.01 L186.32 477.64 L185.81 478.18 L185.24 478.66 L184.61 479.08 L183.93 479.43 L183.18 479.65 L182.41 479.68 L181.65 479.48 L180.96 479.05 L180.39 478.45 L179.93 477.76 L179.57 477.04 L179.26 476.32 L179.01 475.57 L178.83 474.80 L178.76 474.00 L178.80 473.20 L178.96 472.41 L179.20 471.65 L179.52 470.92 L179.92 470.22 L180.42 469.60 L181.02 469.09 L181.71 468.75 L182.45 468.60 L183.18 468.61 L183.90 468.74 L184.60 468.95 L185.28 469.23 L185.94 469.60 L186.54 470.11 L187.04 470.76 L187.39 471.52 L187.58 472.35 L187.65 473.18 Z" fill="none" stroke="#555" stroke-width="0.5" opacity="0.85"/>
<path d="M187.34 474.00 L187.36 474.69 L187.25 475.38 L186.99 476.01 L186.61 476.55 L186.15 476.98 L185.66 477.31 L185.15 477.58 L184.65 477.81 L184.12 477.99 L183.58 478.09 L183.02 478.07 L182.48 477.92 L181.97 477.66 L181.51 477.30 L181.09 476.88 L180.71 476.41 L180.39 475.88 L180.14 475.29 L179.99 474.66 L179.95 474.00 L180.00 473.34 L180.13 472.70 L180.32 472.08 L180.58 471.47 L180.91 470.91 L181.34 470.43 L181.86 470.09 L182.43 469.92 L183.02 469.89 L183.58 469.98 L184.11 470.13 L184.62 470.31 L185.11 470.52 L185.59 470.80 L186.03 471.16 L186.42 471.61 L186.75 472.13 L187.02 472.71 L187.22 473.33 Z" fill="none" stroke="#555" stroke-width="0.5" opacity="0.85"/>
<path d="M186.69 474.00 L186.64 474.49 L186.52 474.96 L186.33 475.39 L186.06 475.75 L185.74 476.05 L185.40 476.27 L185.06 476.47 L184.72 476.64 L184.36 476.81 L183.97 476.94 L183.56 476.99 L183.15 476.94 L182.75 476.78 L182.39 476.52 L182.08 476.19 L181.82 475.81 L181.60 475.40 L181.43 474.96 L181.34 474.48 L181.33 474.00 L181.39 473.53 L181.53 473.08 L181.70 472.66 L181.91 472.26 L182.16 471.89 L182.45 471.57 L182.79 471.31 L183.17 471.15 L183.57 471.08 L183.97 471.10 L184.36 471.18 L184.74 471.28 L185.12 471.41 L185.49 471.58 L185.85 471.83 L186.16 472.16 L186.41 472.56 L186.58 473.02 L186.67 473.51 Z" fill="none" stroke="#555" stroke-width="0.5" opacity="0.85"/>
<path d="M185.95 474.00 L185.91 474.28 L185.85 474.56 L185.76 474.82 L185.64 475.07 L185.48 475.29 L185.29 475.47 L185.08 475.61 L184.85 475.72 L184.61 475.79 L184.37 475.85 L184.11 475.88 L183.85 475.86 L183.59 475.77 L183.36 475.61 L183.17 475.39 L183.03 475.13 L182.94 474.84 L182.88 474.56 L182.85 474.28 L182.84 474.00 L182.87 473.72 L182.92 473.46 L183.02 473.20 L183.14 472.96 L183.28 472.74 L183.44 472.52 L183.63 472.33 L183.85 472.17 L184.10 472.06 L184.37 472.03 L184.63 472.08 L184.88 472.19 L185.10 472.34 L185.30 472.51 L185.49 472.70 L185.66 472.91 L185.80 473.15 L185.90 473.42 L185.95 473.71 Z" fill="none" stroke="#555" stroke-width="0.5" opacity="0.85"/>
<path d="M188.24 491.80 L188.41 492.87 L188.28 493.97 L187.74 495.06 L186.72 496.06 L185.25 496.90 L183.46 497.53 L181.51 497.97 L179.50 498.24 L177.50 498.41 L175.50 498.48 L173.50 498.41 L171.53 498.18 L169.68 497.77 L168.01 497.19 L166.53 496.49 L165.25 495.70 L164.14 494.83 L163.25 493.88 L162.65 492.86 L162.44 491.80 L162.64 490.73 L163.21 489.71 L164.04 488.74 L165.05 487.83 L166.24 486.96 L167.65 486.15 L169.32 485.46 L171.26 484.97 L173.36 484.74 L175.50 484.77 L177.55 485.02 L179.46 485.43 L181.21 485.93 L182.83 486.52 L184.29 487.20 L185.55 487.98 L186.56 488.85 L187.32 489.79 L187.87 490.77 Z" fill="none" stroke="#2e2e2e" stroke-width="0.6" opacity="0.85"/>
<path d="M187.70 492.08 L187.85 493.10 L187.55 494.11 L186.77 495.06 L185.59 495.88 L184.14 496.56 L182.55 497.09 L180.87 497.50 L179.15 497.80 L177.38 497.97 L175.59 498.00 L173.84 497.88 L172.15 497.63 L170.51 497.30 L168.92 496.89 L167.37 496.38 L165.93 495.76 L164.72 494.98 L163.87 494.08 L163.46 493.09 L163.47 492.08 L163.81 491.11 L164.37 490.18 L165.10 489.29 L166.02 488.45 L167.18 487.68 L168.58 487.03 L170.20 486.55 L171.96 486.23 L173.77 486.07 L175.59 486.04 L177.40 486.12 L179.17 486.33 L180.85 486.68 L182.38 487.19 L183.70 487.84 L184.80 488.58 L185.73 489.38 L186.54 490.22 L187.22 491.12 Z" fill="none" stroke="#2e2e2e" stroke-width="0.6" opacity="0.85"/>
<path d="M185.63 492.37 L185.68 493.19 L185.55 494.04 L185.15 494.89 L184.43 495.69 L183.41 496.41 L182.14 497.01 L180.69 497.50 L179.10 497.86 L177.42 498.08 L175.69 498.12 L173.99 497.97 L172.42 497.63 L171.02 497.16 L169.80 496.61 L168.70 496.02 L167.66 495.42 L166.69 494.76 L165.87 494.04 L165.29 493.23 L165.05 492.37 L165.16 491.49 L165.58 490.65 L166.23 489.85 L167.08 489.10 L168.12 488.41 L169.35 487.80 L170.78 487.33 L172.36 487.01 L174.02 486.85 L175.69 486.82 L177.34 486.91 L178.97 487.09 L180.54 487.39 L181.99 487.83 L183.23 488.42 L184.19 489.14 L184.84 489.93 L185.24 490.74 L185.48 491.55 Z" fill="none" stroke="#2e2e2e" stroke-width="0.6" opacity="0.85"/>
<path d="M185.44 492.65 L185.32 493.44 L184.90 494.20 L184.25 494.91 L183.44 495.56 L182.48 496.15 L181.36 496.66 L180.09 497.07 L178.70 497.34 L177.24 497.47 L175.78 497.48 L174.35 497.39 L172.94 497.22 L171.58 496.96 L170.32 496.58 L169.21 496.09 L168.34 495.48 L167.71 494.80 L167.28 494.09 L167.00 493.38 L166.80 492.65 L166.72 491.90 L166.81 491.12 L167.18 490.35 L167.86 489.64 L168.83 489.01 L170.04 488.51 L171.39 488.13 L172.82 487.88 L174.30 487.74 L175.78 487.73 L177.23 487.87 L178.58 488.14 L179.81 488.52 L180.91 488.96 L181.93 489.43 L182.91 489.94 L183.84 490.50 L184.65 491.14 L185.21 491.87 Z" fill="none" stroke="#2e2e2e" stroke-width="0.6" opacity="0.85"/>
<path d="M184.01 492.93 L183.82 493.59 L183.39 494.21 L182.81 494.78 L182.13 495.31 L181.38 495.81 L180.53 496.28 L179.55 496.70 L178.43 497.04 L177.18 497.25 L175.88 497.32 L174.56 497.28 L173.27 497.12 L172.05 496.87 L170.92 496.50 L169.96 496.03 L169.23 495.46 L168.75 494.83 L168.49 494.19 L168.39 493.55 L168.36 492.93 L168.39 492.31 L168.50 491.68 L168.78 491.04 L169.29 490.43 L170.04 489.88 L171.00 489.42 L172.11 489.07 L173.31 488.81 L174.58 488.64 L175.88 488.57 L177.18 488.62 L178.44 488.81 L179.60 489.11 L180.62 489.52 L181.51 489.98 L182.30 490.49 L182.99 491.04 L183.55 491.63 L183.91 492.27 Z" fill="none" stroke="#2e2e2e" stroke-width="0.6" opacity="0.85"/>
<path d="M182.88 493.22 L182.92 493.79 L182.78 494.37 L182.40 494.93 L181.78 495.42 L180.97 495.83 L180.04 496.14 L179.05 496.37 L178.03 496.53 L177.01 496.63 L175.97 496.66 L174.94 496.61 L173.95 496.48 L173.00 496.27 L172.09 496.01 L171.22 495.70 L170.39 495.34 L169.64 494.90 L169.06 494.39 L168.72 493.82 L168.67 493.22 L168.89 492.63 L169.31 492.08 L169.86 491.59 L170.50 491.14 L171.21 490.72 L172.01 490.36 L172.91 490.08 L173.90 489.87 L174.93 489.76 L175.97 489.73 L177.02 489.76 L178.06 489.85 L179.08 490.02 L180.04 490.29 L180.89 490.64 L181.57 491.09 L182.08 491.59 L182.45 492.11 L182.71 492.66 Z" fill="none" stroke="#2e2e2e" stroke-width="0.6" opacity="0.85"/>
<path d="M181.62 493.50 L181.63 493.96 L181.48 494.42 L181.14 494.85 L180.64 495.24 L180.02 495.57 L179.34 495.85 L178.60 496.10 L177.82 496.32 L176.97 496.48 L176.07 496.57 L175.14 496.56 L174.24 496.43 L173.43 496.21 L172.71 495.92 L172.09 495.58 L171.57 495.21 L171.16 494.81 L170.87 494.38 L170.72 493.94 L170.71 493.50 L170.81 493.06 L170.97 492.63 L171.20 492.20 L171.52 491.77 L171.96 491.35 L172.57 490.98 L173.34 490.70 L174.22 490.52 L175.14 490.45 L176.07 490.47 L176.96 490.56 L177.81 490.70 L178.61 490.89 L179.34 491.14 L179.99 491.45 L180.52 491.81 L180.93 492.20 L181.25 492.62 L181.48 493.05 Z" fill="none" stroke="#2e2e2e" stroke-width="0.6" opacity="0.85"/>
<path d="M180.69 493.78 L180.53 494.14 L180.28 494.48 L179.96 494.79 L179.58 495.08 L179.15 495.34 L178.65 495.57 L178.09 495.76 L177.48 495.90 L176.83 496.00 L176.16 496.06 L175.46 496.08 L174.75 496.06 L174.04 495.96 L173.38 495.78 L172.83 495.52 L172.42 495.20 L172.15 494.85 L171.99 494.49 L171.90 494.13 L171.88 493.78 L171.93 493.43 L172.07 493.09 L172.32 492.76 L172.68 492.46 L173.12 492.19 L173.63 491.96 L174.19 491.75 L174.80 491.59 L175.46 491.47 L176.16 491.43 L176.86 491.46 L177.54 491.57 L178.16 491.72 L178.75 491.92 L179.29 492.14 L179.80 492.40 L180.23 492.70 L180.54 493.04 L180.70 493.41 Z" fill="none" stroke="#2e2e2e" stroke-width="0.6" opacity="0.85"/>
<path d="M179.52 494.06 L179.45 494.33 L179.31 494.58 L179.10 494.82 L178.83 495.04 L178.49 495.23 L178.08 495.38 L177.64 495.48 L177.18 495.56 L176.72 495.61 L176.25 495.65 L175.77 495.67 L175.26 495.66 L174.76 495.60 L174.28 495.49 L173.87 495.31 L173.54 495.10 L173.30 494.85 L173.13 494.59 L173.04 494.33 L173.03 494.06 L173.11 493.80 L173.27 493.56 L173.51 493.33 L173.79 493.13 L174.11 492.94 L174.46 492.77 L174.84 492.62 L175.27 492.48 L175.75 492.40 L176.25 492.37 L176.76 492.40 L177.24 492.47 L177.69 492.59 L178.12 492.72 L178.51 492.88 L178.88 493.07 L179.18 493.29 L179.39 493.53 L179.50 493.80 Z" fill="none" stroke="#2e2e2e" stroke-width="0.6" opacity="0.85"/>
<path d="M178.33 494.35 L178.30 494.51 L178.21 494.66 L178.08 494.81 L177.90 494.94 L177.69 495.05 L177.46 495.14 L177.21 495.23 L176.94 495.30 L176.65 495.36 L176.35 495.38 L176.04 495.37 L175.74 495.33 L175.47 495.25 L175.21 495.16 L174.98 495.06 L174.76 494.95 L174.57 494.82 L174.42 494.68 L174.32 494.51 L174.30 494.35 L174.35 494.18 L174.45 494.02 L174.59 493.88 L174.76 493.74 L174.97 493.63 L175.22 493.53 L175.49 493.46 L175.77 493.42 L176.06 493.40 L176.35 493.38 L176.64 493.38 L176.94 493.39 L177.25 493.42 L177.55 493.48 L177.82 493.58 L178.03 493.71 L178.18 493.86 L178.28 494.02 L178.33 494.18 Z" fill="none" stroke="#2e2e2e" stroke-width="0.6" opacity="0.85"/>
<path d="M163.5 478 L166 471.5 L168.5 476 L171 470.5 L173.5 475 L175 472" fill="none" stroke="#666" stroke-width="0.45"/>
</g>
<rect x="47.5" y="431.5" width="70.5" height="70" fill="none" stroke="#333" stroke-width="1"/>
<line x1="44.2" y1="438.5" x2="47" y2="438.5" stroke="#333" stroke-width="1"/>
<line x1="44.2" y1="454.5" x2="47" y2="454.5" stroke="#333" stroke-width="1"/>
<line x1="44.2" y1="470.5" x2="47" y2="470.5" stroke="#333" stroke-width="1"/>
<line x1="44.2" y1="487.5" x2="47" y2="487.5" stroke="#333" stroke-width="1"/>
<line x1="44.2" y1="495.5" x2="47" y2="495.5" stroke="#333" stroke-width="1"/>
<line x1="45.2" y1="449.2437260685091" x2="47" y2="449.2437260685091" stroke="#333" stroke-width="0.7"/>
<line x1="45.2" y1="446.46148417542935" x2="47" y2="446.46148417542935" stroke="#333" stroke-width="0.7"/>
<line x1="45.2" y1="444.4874521370182" x2="47" y2="444.4874521370182" stroke="#333" stroke-width="0.7"/>
<line x1="45.2" y1="442.9562739314909" x2="47" y2="442.9562739314909" stroke="#333" stroke-width="0.7"/>
<line x1="45.2" y1="441.70521024393844" x2="47" y2="441.70521024393844" stroke="#333" stroke-width="0.7"/>
<line x1="45.2" y1="440.6474509677747" x2="47" y2="440.6474509677747" stroke="#333" stroke-width="0.7"/>
<line x1="45.2" y1="439.73117820552727" x2="47" y2="439.73117820552727" stroke="#333" stroke-width="0.7"/>
<line x1="45.2" y1="438.92296835085864" x2="47" y2="438.92296835085864" stroke="#333" stroke-width="0.7"/>
<line x1="45.2" y1="465.1835200693763" x2="47" y2="465.1835200693763" stroke="#333" stroke-width="0.7"/>
<line x1="45.2" y1="462.3660599244854" x2="47" y2="462.3660599244854" stroke="#333" stroke-width="0.7"/>
<line x1="45.2" y1="460.3670401387526" x2="47" y2="460.3670401387526" stroke="#333" stroke-width="0.7"/>
<line x1="45.2" y1="458.8164799306237" x2="47" y2="458.8164799306237" stroke="#333" stroke-width="0.7"/>
<line x1="45.2" y1="457.5495799938617" x2="47" y2="457.5495799938617" stroke="#333" stroke-width="0.7"/>
<line x1="45.2" y1="456.4784313597719" x2="47" y2="456.4784313597719" stroke="#333" stroke-width="0.7"/>
<line x1="45.2" y1="455.5505602081289" x2="47" y2="455.5505602081289" stroke="#333" stroke-width="0.7"/>
<line x1="45.2" y1="454.7321198489708" x2="47" y2="454.7321198489708" stroke="#333" stroke-width="0.7"/>
<line x1="45.2" y1="481.88249007371235" x2="47" y2="481.88249007371235" stroke="#333" stroke-width="0.7"/>
<line x1="45.2" y1="478.88893866976576" x2="47" y2="478.88893866976576" stroke="#333" stroke-width="0.7"/>
<line x1="45.2" y1="476.76498014742464" x2="47" y2="476.76498014742464" stroke="#333" stroke-width="0.7"/>
<line x1="45.2" y1="475.11750992628765" x2="47" y2="475.11750992628765" stroke="#333" stroke-width="0.7"/>
<line x1="45.2" y1="473.77142874347805" x2="47" y2="473.77142874347805" stroke="#333" stroke-width="0.7"/>
<line x1="45.2" y1="472.63333331975764" x2="47" y2="472.63333331975764" stroke="#333" stroke-width="0.7"/>
<line x1="45.2" y1="471.647470221137" x2="47" y2="471.647470221137" stroke="#333" stroke-width="0.7"/>
<line x1="45.2" y1="470.77787733953147" x2="47" y2="470.77787733953147" stroke="#333" stroke-width="0.7"/>
<line x1="45.2" y1="432.5" x2="47" y2="432.5" stroke="#333" stroke-width="0.7"/>
<line x1="45.2" y1="434.5" x2="47" y2="434.5" stroke="#333" stroke-width="0.7"/>
<line x1="45.2" y1="436.2" x2="47" y2="436.2" stroke="#333" stroke-width="0.7"/>
<line x1="45.2" y1="488.3333333333333" x2="47" y2="488.3333333333333" stroke="#333" stroke-width="0.8"/>
<line x1="45.2" y1="489.6666666666667" x2="47" y2="489.6666666666667" stroke="#333" stroke-width="0.8"/>
<line x1="45.2" y1="491.0" x2="47" y2="491.0" stroke="#333" stroke-width="0.8"/>
<line x1="45.2" y1="492.3333333333333" x2="47" y2="492.3333333333333" stroke="#333" stroke-width="0.8"/>
<line x1="45.2" y1="493.6666666666667" x2="47" y2="493.6666666666667" stroke="#333" stroke-width="0.8"/>
<line x1="45.2" y1="496.75" x2="47" y2="496.75" stroke="#333" stroke-width="0.8"/>
<line x1="45.2" y1="498.5" x2="47" y2="498.5" stroke="#333" stroke-width="0.8"/>
<line x1="45.2" y1="500.25" x2="47" y2="500.25" stroke="#333" stroke-width="0.8"/>
<line x1="54.5" y1="502" x2="54.5" y2="505" stroke="#333" stroke-width="1"/>
<line x1="63.5" y1="502" x2="63.5" y2="505" stroke="#333" stroke-width="1"/>
<line x1="79.5" y1="502" x2="79.5" y2="505" stroke="#333" stroke-width="1"/>
<line x1="95.5" y1="502" x2="95.5" y2="505" stroke="#333" stroke-width="1"/>
<line x1="112.5" y1="502" x2="112.5" y2="505" stroke="#333" stroke-width="1"/>
<line x1="67.90678892932289" y1="502" x2="67.90678892932289" y2="504" stroke="#333" stroke-width="0.7"/>
<line x1="70.7770764519305" y1="502" x2="70.7770764519305" y2="504" stroke="#333" stroke-width="0.7"/>
<line x1="72.81357785864579" y1="502" x2="72.81357785864579" y2="504" stroke="#333" stroke-width="0.7"/>
<line x1="74.39321107067711" y1="502" x2="74.39321107067711" y2="504" stroke="#333" stroke-width="0.7"/>
<line x1="75.68386538125338" y1="502" x2="75.68386538125338" y2="504" stroke="#333" stroke-width="0.7"/>
<line x1="76.77509805223238" y1="502" x2="76.77509805223238" y2="504" stroke="#333" stroke-width="0.7"/>
<line x1="77.72036678796867" y1="502" x2="77.72036678796867" y2="504" stroke="#333" stroke-width="0.7"/>
<line x1="78.554152903861" y1="502" x2="78.554152903861" y2="504" stroke="#333" stroke-width="0.7"/>
<line x1="84.2067889293229" y1="502" x2="84.2067889293229" y2="504" stroke="#333" stroke-width="0.7"/>
<line x1="87.0770764519305" y1="502" x2="87.0770764519305" y2="504" stroke="#333" stroke-width="0.7"/>
<line x1="89.11357785864578" y1="502" x2="89.11357785864578" y2="504" stroke="#333" stroke-width="0.7"/>
<line x1="90.69321107067711" y1="502" x2="90.69321107067711" y2="504" stroke="#333" stroke-width="0.7"/>
<line x1="91.98386538125338" y1="502" x2="91.98386538125338" y2="504" stroke="#333" stroke-width="0.7"/>
<line x1="93.07509805223238" y1="502" x2="93.07509805223238" y2="504" stroke="#333" stroke-width="0.7"/>
<line x1="94.02036678796867" y1="502" x2="94.02036678796867" y2="504" stroke="#333" stroke-width="0.7"/>
<line x1="94.85415290386099" y1="502" x2="94.85415290386099" y2="504" stroke="#333" stroke-width="0.7"/>
<line x1="100.53689192888929" y1="502" x2="100.53689192888929" y2="504" stroke="#333" stroke-width="0.7"/>
<line x1="103.42478857740247" y1="502" x2="103.42478857740247" y2="504" stroke="#333" stroke-width="0.7"/>
<line x1="105.47378385777859" y1="502" x2="105.47378385777859" y2="504" stroke="#333" stroke-width="0.7"/>
<line x1="107.0631080711107" y1="502" x2="107.0631080711107" y2="504" stroke="#333" stroke-width="0.7"/>
<line x1="108.36168050629175" y1="502" x2="108.36168050629175" y2="504" stroke="#333" stroke-width="0.7"/>
<line x1="109.45960785623382" y1="502" x2="109.45960785623382" y2="504" stroke="#333" stroke-width="0.7"/>
<line x1="110.41067578666787" y1="502" x2="110.41067578666787" y2="504" stroke="#333" stroke-width="0.7"/>
<line x1="111.24957715480492" y1="502" x2="111.24957715480492" y2="504" stroke="#333" stroke-width="0.7"/>
<line x1="115" y1="502" x2="115" y2="504" stroke="#333" stroke-width="0.7"/>
<line x1="116.8" y1="502" x2="116.8" y2="504" stroke="#333" stroke-width="0.7"/>
<line x1="56.0" y1="502" x2="56.0" y2="504.2" stroke="#333" stroke-width="0.8"/>
<line x1="57.4" y1="502" x2="57.4" y2="504.2" stroke="#333" stroke-width="0.8"/>
<line x1="58.8" y1="502" x2="58.8" y2="504.2" stroke="#333" stroke-width="0.8"/>
<line x1="60.2" y1="502" x2="60.2" y2="504.2" stroke="#333" stroke-width="0.8"/>
<line x1="61.6" y1="502" x2="61.6" y2="504.2" stroke="#333" stroke-width="0.8"/>
<line x1="48.9" y1="502" x2="48.9" y2="504.2" stroke="#333" stroke-width="0.8"/>
<line x1="50.8" y1="502" x2="50.8" y2="504.2" stroke="#333" stroke-width="0.8"/>
<line x1="52.7" y1="502" x2="52.7" y2="504.2" stroke="#333" stroke-width="0.8"/>
<line x1="67.5" y1="432" x2="67.5" y2="501" stroke="#bf5469" stroke-width="1.0"/>
<line x1="48" y1="483.7" x2="117.5" y2="483.7" stroke="#bf5469" stroke-width="1.2"/>
<text x="48.6" y="440.1" font-size="7.5" text-anchor="start" fill="#2a2a2a" stroke="#2a2a2a" stroke-width="0.12" textLength="12.4" lengthAdjust="spacingAndGlyphs">83.2</text>
<text x="112.6" y="440.1" font-size="7.5" text-anchor="end" fill="#2a2a2a" stroke="#2a2a2a" stroke-width="0.12" textLength="12.4" lengthAdjust="spacingAndGlyphs">13.2</text>
<text x="112.3" y="500.1" font-size="7.5" text-anchor="end" fill="#2a2a2a" stroke="#2a2a2a" stroke-width="0.12" textLength="9" lengthAdjust="spacingAndGlyphs">1.0</text>
<text x="41.4" y="439.8" font-size="7.5" text-anchor="end" fill="#2a2a2a" stroke="#2a2a2a" stroke-width="0.12">10<tspan dy="-2.8" font-size="5">5</tspan></text>
<text x="41.4" y="455.59999999999997" font-size="7.5" text-anchor="end" fill="#2a2a2a" stroke="#2a2a2a" stroke-width="0.12">10<tspan dy="-2.8" font-size="5">4</tspan></text>
<text x="41.4" y="471.7" font-size="7.5" text-anchor="end" fill="#2a2a2a" stroke="#2a2a2a" stroke-width="0.12">10<tspan dy="-2.8" font-size="5">3</tspan></text>
<text x="41.4" y="488.7" font-size="7.5" text-anchor="end" fill="#2a2a2a" stroke="#2a2a2a" stroke-width="0.12">10<tspan dy="-2.8" font-size="5">2</tspan></text>
<text x="41.4" y="497.7" font-size="7.5" text-anchor="end" fill="#2a2a2a" stroke="#2a2a2a" stroke-width="0.12">0</text>
<text x="54.6" y="515.2" font-size="7.5" text-anchor="middle" fill="#2a2a2a" stroke="#2a2a2a" stroke-width="0.12">0</text>
<text x="58.6" y="515.2" font-size="7.5" text-anchor="start" fill="#2a2a2a" stroke="#2a2a2a" stroke-width="0.12">10<tspan dy="-2.8" font-size="5">2</tspan></text>
<text x="74.5" y="515.2" font-size="7.5" text-anchor="start" fill="#2a2a2a" stroke="#2a2a2a" stroke-width="0.12">10<tspan dy="-2.8" font-size="5">3</tspan></text>
<text x="90.8" y="515.2" font-size="7.5" text-anchor="start" fill="#2a2a2a" stroke="#2a2a2a" stroke-width="0.12">10<tspan dy="-2.8" font-size="5">4</tspan></text>
<text x="106.7" y="515.2" font-size="7.5" text-anchor="start" fill="#2a2a2a" stroke="#2a2a2a" stroke-width="0.12">10<tspan dy="-2.8" font-size="5">5</tspan></text>
<rect x="146.5" y="431.5" width="70.5" height="70" fill="none" stroke="#333" stroke-width="1"/>
<line x1="143.2" y1="438.5" x2="146" y2="438.5" stroke="#333" stroke-width="1"/>
<line x1="143.2" y1="454.5" x2="146" y2="454.5" stroke="#333" stroke-width="1"/>
<line x1="143.2" y1="470.5" x2="146" y2="470.5" stroke="#333" stroke-width="1"/>
<line x1="143.2" y1="487.5" x2="146" y2="487.5" stroke="#333" stroke-width="1"/>
<line x1="143.2" y1="495.5" x2="146" y2="495.5" stroke="#333" stroke-width="1"/>
<line x1="144.2" y1="449.2437260685091" x2="146" y2="449.2437260685091" stroke="#333" stroke-width="0.7"/>
<line x1="144.2" y1="446.46148417542935" x2="146" y2="446.46148417542935" stroke="#333" stroke-width="0.7"/>
<line x1="144.2" y1="444.4874521370182" x2="146" y2="444.4874521370182" stroke="#333" stroke-width="0.7"/>
<line x1="144.2" y1="442.9562739314909" x2="146" y2="442.9562739314909" stroke="#333" stroke-width="0.7"/>
<line x1="144.2" y1="441.70521024393844" x2="146" y2="441.70521024393844" stroke="#333" stroke-width="0.7"/>
<line x1="144.2" y1="440.6474509677747" x2="146" y2="440.6474509677747" stroke="#333" stroke-width="0.7"/>
<line x1="144.2" y1="439.73117820552727" x2="146" y2="439.73117820552727" stroke="#333" stroke-width="0.7"/>
<line x1="144.2" y1="438.92296835085864" x2="146" y2="438.92296835085864" stroke="#333" stroke-width="0.7"/>
<line x1="144.2" y1="465.1835200693763" x2="146" y2="465.1835200693763" stroke="#333" stroke-width="0.7"/>
<line x1="144.2" y1="462.3660599244854" x2="146" y2="462.3660599244854" stroke="#333" stroke-width="0.7"/>
<line x1="144.2" y1="460.3670401387526" x2="146" y2="460.3670401387526" stroke="#333" stroke-width="0.7"/>
<line x1="144.2" y1="458.8164799306237" x2="146" y2="458.8164799306237" stroke="#333" stroke-width="0.7"/>
<line x1="144.2" y1="457.5495799938617" x2="146" y2="457.5495799938617" stroke="#333" stroke-width="0.7"/>
<line x1="144.2" y1="456.4784313597719" x2="146" y2="456.4784313597719" stroke="#333" stroke-width="0.7"/>
<line x1="144.2" y1="455.5505602081289" x2="146" y2="455.5505602081289" stroke="#333" stroke-width="0.7"/>
<line x1="144.2" y1="454.7321198489708" x2="146" y2="454.7321198489708" stroke="#333" stroke-width="0.7"/>
<line x1="144.2" y1="481.88249007371235" x2="146" y2="481.88249007371235" stroke="#333" stroke-width="0.7"/>
<line x1="144.2" y1="478.88893866976576" x2="146" y2="478.88893866976576" stroke="#333" stroke-width="0.7"/>
<line x1="144.2" y1="476.76498014742464" x2="146" y2="476.76498014742464" stroke="#333" stroke-width="0.7"/>
<line x1="144.2" y1="475.11750992628765" x2="146" y2="475.11750992628765" stroke="#333" stroke-width="0.7"/>
<line x1="144.2" y1="473.77142874347805" x2="146" y2="473.77142874347805" stroke="#333" stroke-width="0.7"/>
<line x1="144.2" y1="472.63333331975764" x2="146" y2="472.63333331975764" stroke="#333" stroke-width="0.7"/>
<line x1="144.2" y1="471.647470221137" x2="146" y2="471.647470221137" stroke="#333" stroke-width="0.7"/>
<line x1="144.2" y1="470.77787733953147" x2="146" y2="470.77787733953147" stroke="#333" stroke-width="0.7"/>
<line x1="144.2" y1="432.5" x2="146" y2="432.5" stroke="#333" stroke-width="0.7"/>
<line x1="144.2" y1="434.5" x2="146" y2="434.5" stroke="#333" stroke-width="0.7"/>
<line x1="144.2" y1="436.2" x2="146" y2="436.2" stroke="#333" stroke-width="0.7"/>
<line x1="144.2" y1="488.3333333333333" x2="146" y2="488.3333333333333" stroke="#333" stroke-width="0.8"/>
<line x1="144.2" y1="489.6666666666667" x2="146" y2="489.6666666666667" stroke="#333" stroke-width="0.8"/>
<line x1="144.2" y1="491.0" x2="146" y2="491.0" stroke="#333" stroke-width="0.8"/>
<line x1="144.2" y1="492.3333333333333" x2="146" y2="492.3333333333333" stroke="#333" stroke-width="0.8"/>
<line x1="144.2" y1="493.6666666666667" x2="146" y2="493.6666666666667" stroke="#333" stroke-width="0.8"/>
<line x1="144.2" y1="496.75" x2="146" y2="496.75" stroke="#333" stroke-width="0.8"/>
<line x1="144.2" y1="498.5" x2="146" y2="498.5" stroke="#333" stroke-width="0.8"/>
<line x1="144.2" y1="500.25" x2="146" y2="500.25" stroke="#333" stroke-width="0.8"/>
<line x1="153.5" y1="502" x2="153.5" y2="505" stroke="#333" stroke-width="1"/>
<line x1="162.5" y1="502" x2="162.5" y2="505" stroke="#333" stroke-width="1"/>
<line x1="178.5" y1="502" x2="178.5" y2="505" stroke="#333" stroke-width="1"/>
<line x1="194.5" y1="502" x2="194.5" y2="505" stroke="#333" stroke-width="1"/>
<line x1="211.5" y1="502" x2="211.5" y2="505" stroke="#333" stroke-width="1"/>
<line x1="166.9067889293229" y1="502" x2="166.9067889293229" y2="504" stroke="#333" stroke-width="0.7"/>
<line x1="169.7770764519305" y1="502" x2="169.7770764519305" y2="504" stroke="#333" stroke-width="0.7"/>
<line x1="171.8135778586458" y1="502" x2="171.8135778586458" y2="504" stroke="#333" stroke-width="0.7"/>
<line x1="173.39321107067713" y1="502" x2="173.39321107067713" y2="504" stroke="#333" stroke-width="0.7"/>
<line x1="174.6838653812534" y1="502" x2="174.6838653812534" y2="504" stroke="#333" stroke-width="0.7"/>
<line x1="175.7750980522324" y1="502" x2="175.7750980522324" y2="504" stroke="#333" stroke-width="0.7"/>
<line x1="176.7203667879687" y1="502" x2="176.7203667879687" y2="504" stroke="#333" stroke-width="0.7"/>
<line x1="177.554152903861" y1="502" x2="177.554152903861" y2="504" stroke="#333" stroke-width="0.7"/>
<line x1="183.2067889293229" y1="502" x2="183.2067889293229" y2="504" stroke="#333" stroke-width="0.7"/>
<line x1="186.0770764519305" y1="502" x2="186.0770764519305" y2="504" stroke="#333" stroke-width="0.7"/>
<line x1="188.11357785864578" y1="502" x2="188.11357785864578" y2="504" stroke="#333" stroke-width="0.7"/>
<line x1="189.6932110706771" y1="502" x2="189.6932110706771" y2="504" stroke="#333" stroke-width="0.7"/>
<line x1="190.9838653812534" y1="502" x2="190.9838653812534" y2="504" stroke="#333" stroke-width="0.7"/>
<line x1="192.0750980522324" y1="502" x2="192.0750980522324" y2="504" stroke="#333" stroke-width="0.7"/>
<line x1="193.02036678796867" y1="502" x2="193.02036678796867" y2="504" stroke="#333" stroke-width="0.7"/>
<line x1="193.85415290386098" y1="502" x2="193.85415290386098" y2="504" stroke="#333" stroke-width="0.7"/>
<line x1="199.53689192888928" y1="502" x2="199.53689192888928" y2="504" stroke="#333" stroke-width="0.7"/>
<line x1="202.42478857740247" y1="502" x2="202.42478857740247" y2="504" stroke="#333" stroke-width="0.7"/>
<line x1="204.47378385777859" y1="502" x2="204.47378385777859" y2="504" stroke="#333" stroke-width="0.7"/>
<line x1="206.06310807111072" y1="502" x2="206.06310807111072" y2="504" stroke="#333" stroke-width="0.7"/>
<line x1="207.36168050629175" y1="502" x2="207.36168050629175" y2="504" stroke="#333" stroke-width="0.7"/>
<line x1="208.45960785623382" y1="502" x2="208.45960785623382" y2="504" stroke="#333" stroke-width="0.7"/>
<line x1="209.41067578666787" y1="502" x2="209.41067578666787" y2="504" stroke="#333" stroke-width="0.7"/>
<line x1="210.24957715480494" y1="502" x2="210.24957715480494" y2="504" stroke="#333" stroke-width="0.7"/>
<line x1="214" y1="502" x2="214" y2="504" stroke="#333" stroke-width="0.7"/>
<line x1="215.8" y1="502" x2="215.8" y2="504" stroke="#333" stroke-width="0.7"/>
<line x1="155.0" y1="502" x2="155.0" y2="504.2" stroke="#333" stroke-width="0.8"/>
<line x1="156.4" y1="502" x2="156.4" y2="504.2" stroke="#333" stroke-width="0.8"/>
<line x1="157.8" y1="502" x2="157.8" y2="504.2" stroke="#333" stroke-width="0.8"/>
<line x1="159.2" y1="502" x2="159.2" y2="504.2" stroke="#333" stroke-width="0.8"/>
<line x1="160.6" y1="502" x2="160.6" y2="504.2" stroke="#333" stroke-width="0.8"/>
<line x1="147.9" y1="502" x2="147.9" y2="504.2" stroke="#333" stroke-width="0.8"/>
<line x1="149.8" y1="502" x2="149.8" y2="504.2" stroke="#333" stroke-width="0.8"/>
<line x1="151.7" y1="502" x2="151.7" y2="504.2" stroke="#333" stroke-width="0.8"/>
<line x1="166.0" y1="432" x2="166.0" y2="501" stroke="#bf5469" stroke-width="1.3"/>
<line x1="147" y1="483.7" x2="216.5" y2="483.7" stroke="#bf5469" stroke-width="1.2"/>
<text x="147.6" y="440.1" font-size="7.5" text-anchor="start" fill="#2a2a2a" stroke="#2a2a2a" stroke-width="0.12" textLength="12.4" lengthAdjust="spacingAndGlyphs">12.8</text>
<text x="212.5" y="440.1" font-size="7.5" text-anchor="end" fill="#2a2a2a" stroke="#2a2a2a" stroke-width="0.12" textLength="12.4" lengthAdjust="spacingAndGlyphs">12.4</text>
<text x="212.5" y="500.1" font-size="7.5" text-anchor="end" fill="#2a2a2a" stroke="#2a2a2a" stroke-width="0.12" textLength="12.4" lengthAdjust="spacingAndGlyphs">61.2</text>
<text x="140.4" y="439.8" font-size="7.5" text-anchor="end" fill="#2a2a2a" stroke="#2a2a2a" stroke-width="0.12">10<tspan dy="-2.8" font-size="5">5</tspan></text>
<text x="140.4" y="455.59999999999997" font-size="7.5" text-anchor="end" fill="#2a2a2a" stroke="#2a2a2a" stroke-width="0.12">10<tspan dy="-2.8" font-size="5">4</tspan></text>
<text x="140.4" y="471.7" font-size="7.5" text-anchor="end" fill="#2a2a2a" stroke="#2a2a2a" stroke-width="0.12">10<tspan dy="-2.8" font-size="5">3</tspan></text>
<text x="140.4" y="488.7" font-size="7.5" text-anchor="end" fill="#2a2a2a" stroke="#2a2a2a" stroke-width="0.12">10<tspan dy="-2.8" font-size="5">2</tspan></text>
<text x="140.4" y="497.7" font-size="7.5" text-anchor="end" fill="#2a2a2a" stroke="#2a2a2a" stroke-width="0.12">0</text>
<text x="153.6" y="515.2" font-size="7.5" text-anchor="middle" fill="#2a2a2a" stroke="#2a2a2a" stroke-width="0.12">0</text>
<text x="157.6" y="515.2" font-size="7.5" text-anchor="start" fill="#2a2a2a" stroke="#2a2a2a" stroke-width="0.12">10<tspan dy="-2.8" font-size="5">2</tspan></text>
<text x="173.5" y="515.2" font-size="7.5" text-anchor="start" fill="#2a2a2a" stroke="#2a2a2a" stroke-width="0.12">10<tspan dy="-2.8" font-size="5">3</tspan></text>
<text x="189.8" y="515.2" font-size="7.5" text-anchor="start" fill="#2a2a2a" stroke="#2a2a2a" stroke-width="0.12">10<tspan dy="-2.8" font-size="5">4</tspan></text>
<text x="205.7" y="515.2" font-size="7.5" text-anchor="start" fill="#2a2a2a" stroke="#2a2a2a" stroke-width="0.12">10<tspan dy="-2.8" font-size="5">5</tspan></text>
<line x1="51.5" y1="556" x2="51.5" y2="643.9" stroke="#474744" stroke-width="1"/>
<line x1="51.1" y1="643.5" x2="174.6" y2="643.5" stroke="#474744" stroke-width="1"/>
<line x1="48.6" y1="643.5" x2="51.6" y2="643.5" stroke="#474744" stroke-width="1"/>
<text x="45.4" y="645.85" font-size="7.8" text-anchor="end" fill="#2a2a2a" stroke="#2a2a2a" stroke-width="0.12" textLength="9.76" lengthAdjust="spacingAndGlyphs">0.0</text>
<line x1="48.6" y1="615.5" x2="51.6" y2="615.5" stroke="#474744" stroke-width="1"/>
<text x="45.4" y="617.85" font-size="7.8" text-anchor="end" fill="#2a2a2a" stroke="#2a2a2a" stroke-width="0.12" textLength="9.76" lengthAdjust="spacingAndGlyphs">0.5</text>
<line x1="48.6" y1="587.5" x2="51.6" y2="587.5" stroke="#474744" stroke-width="1"/>
<text x="45.4" y="589.85" font-size="7.8" text-anchor="end" fill="#2a2a2a" stroke="#2a2a2a" stroke-width="0.12" textLength="9.76" lengthAdjust="spacingAndGlyphs">1.0</text>
<line x1="48.6" y1="559.5" x2="51.6" y2="559.5" stroke="#474744" stroke-width="1"/>
<text x="45.4" y="561.85" font-size="7.8" text-anchor="end" fill="#2a2a2a" stroke="#2a2a2a" stroke-width="0.12" textLength="9.76" lengthAdjust="spacingAndGlyphs">1.5</text>
<line x1="64.5" y1="643.4" x2="64.5" y2="646.4" stroke="#474744" stroke-width="1"/>
<line x1="85.5" y1="643.4" x2="85.5" y2="646.4" stroke="#474744" stroke-width="1"/>
<line x1="105.5" y1="643.4" x2="105.5" y2="646.4" stroke="#474744" stroke-width="1"/>
<line x1="125.5" y1="643.4" x2="125.5" y2="646.4" stroke="#474744" stroke-width="1"/>
<line x1="145.5" y1="643.4" x2="145.5" y2="646.4" stroke="#474744" stroke-width="1"/>
<line x1="166.5" y1="643.4" x2="166.5" y2="646.4" stroke="#474744" stroke-width="1"/>
<line x1="65.05000000000001" y1="569.8697" x2="65.05000000000001" y2="576.044" stroke="#444" stroke-width="1"/>
<line x1="62.31000000000001" y1="569.5" x2="67.79" y2="569.5" stroke="#444" stroke-width="1"/>
<rect x="58.6" y="576.444" width="12.900000000000002" height="66.95599999999999" fill="#4a6189" stroke="#3c5280" stroke-width="0.8"/>
<line x1="85.5" y1="639.75155" x2="85.5" y2="640.5935" stroke="#444" stroke-width="1"/>
<line x1="82.7" y1="639.5" x2="88.3" y2="639.5" stroke="#444" stroke-width="1"/>
<rect x="78.9" y="640.9934999999999" width="13.2" height="2.4065000000000283" fill="#4a6189" stroke="#3c5280" stroke-width="0.8"/>
<line x1="105.0" y1="628.52555" x2="105.0" y2="631.0514" stroke="#444" stroke-width="1"/>
<line x1="102.2" y1="628.5" x2="107.8" y2="628.5" stroke="#444" stroke-width="1"/>
<rect x="98.4" y="631.4513999999999" width="13.2" height="11.948600000000033" fill="#4a6189" stroke="#3c5280" stroke-width="0.8"/>
<text x="67.0" y="651.8" font-size="7.8" text-anchor="end" fill="#2a2a2a" stroke="#2a2a2a" stroke-width="0.12" transform="rotate(-45 67.0 651.8)" textLength="14" lengthAdjust="spacingAndGlyphs">Neu</text>
<text x="87.3" y="651.8" font-size="7.8" text-anchor="end" fill="#2a2a2a" stroke="#2a2a2a" stroke-width="0.12" transform="rotate(-45 87.3 651.8)" textLength="31" lengthAdjust="spacingAndGlyphs">Ly6G<tspan dy="-2.5" font-size="4.5">−</tspan><tspan dy="2.5"> Eos</tspan></text>
<text x="107.5" y="651.8" font-size="7.8" text-anchor="end" fill="#2a2a2a" stroke="#2a2a2a" stroke-width="0.12" transform="rotate(-45 107.5 651.8)" textLength="31" lengthAdjust="spacingAndGlyphs">Ly6G<tspan dy="-2.5" font-size="4.5">+</tspan><tspan dy="2.5"> Eos</tspan></text>
<text x="127.7" y="651.8" font-size="7.8" text-anchor="end" fill="#2a2a2a" stroke="#2a2a2a" stroke-width="0.12" transform="rotate(-45 127.7 651.8)" textLength="14" lengthAdjust="spacingAndGlyphs">Neu</text>
<text x="148.1" y="651.8" font-size="7.8" text-anchor="end" fill="#2a2a2a" stroke="#2a2a2a" stroke-width="0.12" transform="rotate(-45 148.1 651.8)" textLength="31" lengthAdjust="spacingAndGlyphs">Ly6G<tspan dy="-2.5" font-size="4.5">−</tspan><tspan dy="2.5"> Eos</tspan></text>
<text x="168.29999999999998" y="651.8" font-size="7.8" text-anchor="end" fill="#2a2a2a" stroke="#2a2a2a" stroke-width="0.12" transform="rotate(-45 168.29999999999998 651.8)" textLength="31" lengthAdjust="spacingAndGlyphs">Ly6G<tspan dy="-2.5" font-size="4.5">+</tspan><tspan dy="2.5"> Eos</tspan></text>
<rect x="56.2" y="680" width="54.3" height="1.2" fill="#70706c"/>
<text x="83.3" y="694" font-size="7.8" text-anchor="middle" fill="#2a2a2a" stroke="#2a2a2a" stroke-width="0.12">Trib1<tspan dy="-3" font-size="4.8" fill-opacity="0.8">+/+</tspan></text>
<rect x="114.4" y="680" width="54.79999999999998" height="1.2" fill="#70706c"/>
<text x="141.7" y="694" font-size="7.8" text-anchor="middle" fill="#2a2a2a" stroke="#2a2a2a" stroke-width="0.12">Trib1<tspan dy="-3" font-size="4.8" fill-opacity="0.8">ΔHSC</tspan></text>
<text x="29" y="600" font-size="9" text-anchor="middle" fill="#2a2a2a" stroke="#2a2a2a" stroke-width="0.12" transform="rotate(-90 29 600)" textLength="99.1" lengthAdjust="spacingAndGlyphs">Relative Trib1 expression</text>
<line x1="219.5" y1="556" x2="219.5" y2="643.9" stroke="#474744" stroke-width="1"/>
<line x1="219.2" y1="643.5" x2="342" y2="643.5" stroke="#474744" stroke-width="1"/>
<line x1="216.7" y1="643.5" x2="219.7" y2="643.5" stroke="#474744" stroke-width="1"/>
<text x="213.5" y="645.85" font-size="7.8" text-anchor="end" fill="#2a2a2a" stroke="#2a2a2a" stroke-width="0.12" textLength="3.9" lengthAdjust="spacingAndGlyphs">0</text>
<line x1="216.7" y1="626.5" x2="219.7" y2="626.5" stroke="#474744" stroke-width="1"/>
<text x="213.5" y="628.85" font-size="7.8" text-anchor="end" fill="#2a2a2a" stroke="#2a2a2a" stroke-width="0.12" textLength="7.81" lengthAdjust="spacingAndGlyphs">10</text>
<line x1="216.7" y1="609.5" x2="219.7" y2="609.5" stroke="#474744" stroke-width="1"/>
<text x="213.5" y="611.85" font-size="7.8" text-anchor="end" fill="#2a2a2a" stroke="#2a2a2a" stroke-width="0.12" textLength="7.81" lengthAdjust="spacingAndGlyphs">20</text>
<line x1="216.7" y1="592.5" x2="219.7" y2="592.5" stroke="#474744" stroke-width="1"/>
<text x="213.5" y="594.85" font-size="7.8" text-anchor="end" fill="#2a2a2a" stroke="#2a2a2a" stroke-width="0.12" textLength="7.81" lengthAdjust="spacingAndGlyphs">30</text>
<line x1="216.7" y1="575.5" x2="219.7" y2="575.5" stroke="#474744" stroke-width="1"/>
<text x="213.5" y="577.85" font-size="7.8" text-anchor="end" fill="#2a2a2a" stroke="#2a2a2a" stroke-width="0.12" textLength="7.81" lengthAdjust="spacingAndGlyphs">40</text>
<line x1="216.7" y1="558.5" x2="219.7" y2="558.5" stroke="#474744" stroke-width="1"/>
<text x="213.5" y="560.85" font-size="7.8" text-anchor="end" fill="#2a2a2a" stroke="#2a2a2a" stroke-width="0.12" textLength="7.81" lengthAdjust="spacingAndGlyphs">50</text>
<line x1="232.5" y1="643.4" x2="232.5" y2="646.4" stroke="#474744" stroke-width="1"/>
<line x1="253.5" y1="643.4" x2="253.5" y2="646.4" stroke="#474744" stroke-width="1"/>
<line x1="272.5" y1="643.4" x2="272.5" y2="646.4" stroke="#474744" stroke-width="1"/>
<line x1="293.5" y1="643.4" x2="293.5" y2="646.4" stroke="#474744" stroke-width="1"/>
<line x1="313.5" y1="643.4" x2="313.5" y2="646.4" stroke="#474744" stroke-width="1"/>
<line x1="333.5" y1="643.4" x2="333.5" y2="646.4" stroke="#474744" stroke-width="1"/>
<line x1="232.89999999999998" y1="640.696" x2="232.89999999999998" y2="641.7099999999999" stroke="#444" stroke-width="1"/>
<line x1="230.21999999999997" y1="640.5" x2="235.57999999999998" y2="640.5" stroke="#444" stroke-width="1"/>
<rect x="226.6" y="642.1099999999999" width="12.600000000000005" height="1.2900000000000547" fill="#4a6189" stroke="#3c5280" stroke-width="0.8"/>
<line x1="253.04999999999998" y1="573.7719999999999" x2="253.04999999999998" y2="578.335" stroke="#444" stroke-width="1"/>
<line x1="250.30999999999997" y1="573.5" x2="255.79" y2="573.5" stroke="#444" stroke-width="1"/>
<rect x="246.6" y="578.735" width="12.899999999999988" height="64.66499999999994" fill="#4a6189" stroke="#3c5280" stroke-width="0.8"/>
<line x1="272.8" y1="630.218" x2="272.8" y2="631.5699999999999" stroke="#444" stroke-width="1"/>
<line x1="270.0" y1="630.5" x2="275.6" y2="630.5" stroke="#444" stroke-width="1"/>
<rect x="266.2" y="631.9699999999999" width="13.2" height="11.43000000000004" fill="#4a6189" stroke="#3c5280" stroke-width="0.8"/>
<line x1="292.9" y1="642.7239999999999" x2="292.9" y2="642.893" stroke="#444" stroke-width="1"/>
<line x1="290.14" y1="642.5" x2="295.65999999999997" y2="642.5" stroke="#444" stroke-width="1"/>
<rect x="286.4" y="643.293" width="13.00000000000001" height="0.3" fill="#a13445" stroke="#942b3c" stroke-width="0.8"/>
<line x1="313.5" y1="566.674" x2="313.5" y2="571.913" stroke="#444" stroke-width="1"/>
<line x1="310.74" y1="566.5" x2="316.26" y2="566.5" stroke="#444" stroke-width="1"/>
<rect x="307.0" y="572.313" width="12.999999999999954" height="71.08699999999996" fill="#a13445" stroke="#942b3c" stroke-width="0.8"/>
<line x1="333.0" y1="635.795" x2="333.0" y2="636.64" stroke="#444" stroke-width="1"/>
<line x1="330.2" y1="635.5" x2="335.8" y2="635.5" stroke="#444" stroke-width="1"/>
<rect x="326.4" y="637.04" width="13.2" height="6.3599999999999905" fill="#a13445" stroke="#942b3c" stroke-width="0.8"/>
<text x="235.1" y="651.8" font-size="7.8" text-anchor="end" fill="#2a2a2a" stroke="#2a2a2a" stroke-width="0.12" transform="rotate(-45 235.1 651.8)" textLength="14" lengthAdjust="spacingAndGlyphs">Neu</text>
<text x="255.29999999999998" y="651.8" font-size="7.8" text-anchor="end" fill="#2a2a2a" stroke="#2a2a2a" stroke-width="0.12" transform="rotate(-45 255.29999999999998 651.8)" textLength="31" lengthAdjust="spacingAndGlyphs">Ly6G<tspan dy="-2.5" font-size="4.5">−</tspan><tspan dy="2.5"> Eos</tspan></text>
<text x="275.0" y="651.8" font-size="7.8" text-anchor="end" fill="#2a2a2a" stroke="#2a2a2a" stroke-width="0.12" transform="rotate(-45 275.0 651.8)" textLength="31" lengthAdjust="spacingAndGlyphs">Ly6G<tspan dy="-2.5" font-size="4.5">+</tspan><tspan dy="2.5"> Eos</tspan></text>
<text x="295.2" y="651.8" font-size="7.8" text-anchor="end" fill="#2a2a2a" stroke="#2a2a2a" stroke-width="0.12" transform="rotate(-45 295.2 651.8)" textLength="14" lengthAdjust="spacingAndGlyphs">Neu</text>
<text x="315.7" y="651.8" font-size="7.8" text-anchor="end" fill="#2a2a2a" stroke="#2a2a2a" stroke-width="0.12" transform="rotate(-45 315.7 651.8)" textLength="31" lengthAdjust="spacingAndGlyphs">Ly6G<tspan dy="-2.5" font-size="4.5">−</tspan><tspan dy="2.5"> Eos</tspan></text>
<text x="335.3" y="651.8" font-size="7.8" text-anchor="end" fill="#2a2a2a" stroke="#2a2a2a" stroke-width="0.12" transform="rotate(-45 335.3 651.8)" textLength="31" lengthAdjust="spacingAndGlyphs">Ly6G<tspan dy="-2.5" font-size="4.5">+</tspan><tspan dy="2.5"> Eos</tspan></text>
<rect x="225.6" y="680" width="54.900000000000006" height="1.2" fill="#70706c"/>
<text x="253.4" y="694" font-size="7.8" text-anchor="middle" fill="#2a2a2a" stroke="#2a2a2a" stroke-width="0.12">Trib1<tspan dy="-3" font-size="4.8" fill-opacity="0.8">+/+</tspan></text>
<rect x="285" y="680" width="55.5" height="1.2" fill="#70706c"/>
<text x="312.5" y="694" font-size="7.8" text-anchor="middle" fill="#2a2a2a" stroke="#2a2a2a" stroke-width="0.12">Trib1<tspan dy="-3" font-size="4.8" fill-opacity="0.8">ΔHSC</tspan></text>
<text x="199.5" y="599.85" font-size="9" text-anchor="middle" fill="#2a2a2a" stroke="#2a2a2a" stroke-width="0.12" transform="rotate(-90 199.5 599.85)" textLength="93.1" lengthAdjust="spacingAndGlyphs">Relative Epx expression</text>
<line x1="386.5" y1="556" x2="386.5" y2="643.9" stroke="#474744" stroke-width="1"/>
<line x1="386.0" y1="643.5" x2="512" y2="643.5" stroke="#474744" stroke-width="1"/>
<line x1="383.5" y1="643.5" x2="386.5" y2="643.5" stroke="#474744" stroke-width="1"/>
<text x="380.3" y="645.85" font-size="7.8" text-anchor="end" fill="#2a2a2a" stroke="#2a2a2a" stroke-width="0.12" textLength="3.9" lengthAdjust="spacingAndGlyphs">0</text>
<line x1="383.5" y1="626.5" x2="386.5" y2="626.5" stroke="#474744" stroke-width="1"/>
<text x="380.3" y="628.85" font-size="7.8" text-anchor="end" fill="#2a2a2a" stroke="#2a2a2a" stroke-width="0.12" textLength="3.9" lengthAdjust="spacingAndGlyphs">1</text>
<line x1="383.5" y1="609.5" x2="386.5" y2="609.5" stroke="#474744" stroke-width="1"/>
<text x="380.3" y="611.85" font-size="7.8" text-anchor="end" fill="#2a2a2a" stroke="#2a2a2a" stroke-width="0.12" textLength="3.9" lengthAdjust="spacingAndGlyphs">2</text>
<line x1="383.5" y1="592.5" x2="386.5" y2="592.5" stroke="#474744" stroke-width="1"/>
<text x="380.3" y="594.85" font-size="7.8" text-anchor="end" fill="#2a2a2a" stroke="#2a2a2a" stroke-width="0.12" textLength="3.9" lengthAdjust="spacingAndGlyphs">3</text>
<line x1="383.5" y1="575.5" x2="386.5" y2="575.5" stroke="#474744" stroke-width="1"/>
<text x="380.3" y="577.85" font-size="7.8" text-anchor="end" fill="#2a2a2a" stroke="#2a2a2a" stroke-width="0.12" textLength="3.9" lengthAdjust="spacingAndGlyphs">4</text>
<line x1="383.5" y1="558.5" x2="386.5" y2="558.5" stroke="#474744" stroke-width="1"/>
<text x="380.3" y="560.85" font-size="7.8" text-anchor="end" fill="#2a2a2a" stroke="#2a2a2a" stroke-width="0.12" textLength="3.9" lengthAdjust="spacingAndGlyphs">5</text>
<line x1="399.5" y1="643.4" x2="399.5" y2="646.4" stroke="#474744" stroke-width="1"/>
<line x1="419.5" y1="643.4" x2="419.5" y2="646.4" stroke="#474744" stroke-width="1"/>
<line x1="439.5" y1="643.4" x2="439.5" y2="646.4" stroke="#474744" stroke-width="1"/>
<line x1="459.5" y1="643.4" x2="459.5" y2="646.4" stroke="#474744" stroke-width="1"/>
<line x1="479.5" y1="643.4" x2="479.5" y2="646.4" stroke="#474744" stroke-width="1"/>
<line x1="499.5" y1="643.4" x2="499.5" y2="646.4" stroke="#474744" stroke-width="1"/>
<line x1="399.55" y1="619.4019999999999" x2="399.55" y2="622.275" stroke="#444" stroke-width="1"/>
<line x1="396.77000000000004" y1="619.5" x2="402.33" y2="619.5" stroke="#444" stroke-width="1"/>
<rect x="393.0" y="622.675" width="13.099999999999977" height="20.725" fill="#4a6189" stroke="#3c5280" stroke-width="0.8"/>
<line x1="459.4" y1="571.575" x2="459.4" y2="574.9549999999999" stroke="#444" stroke-width="1"/>
<line x1="456.76" y1="571.5" x2="462.03999999999996" y2="571.5" stroke="#444" stroke-width="1"/>
<rect x="453.2" y="575.3549999999999" width="12.399999999999988" height="68.04500000000004" fill="#a13445" stroke="#942b3c" stroke-width="0.8"/>
<line x1="479.45" y1="641.203" x2="479.45" y2="642.048" stroke="#444" stroke-width="1"/>
<line x1="476.83" y1="641.5" x2="482.07" y2="641.5" stroke="#444" stroke-width="1"/>
<rect x="473.29999999999995" y="642.448" width="12.300000000000022" height="0.9519999999999754" fill="#a13445" stroke="#942b3c" stroke-width="0.8"/>
<line x1="499.20000000000005" y1="618.726" x2="499.20000000000005" y2="620.923" stroke="#444" stroke-width="1"/>
<line x1="496.44000000000005" y1="618.5" x2="501.96000000000004" y2="618.5" stroke="#444" stroke-width="1"/>
<rect x="492.7" y="621.323" width="13.00000000000001" height="22.076999999999977" fill="#a13445" stroke="#942b3c" stroke-width="0.8"/>
<text x="401.7" y="651.8" font-size="7.8" text-anchor="end" fill="#2a2a2a" stroke="#2a2a2a" stroke-width="0.12" transform="rotate(-45 401.7 651.8)" textLength="14" lengthAdjust="spacingAndGlyphs">Neu</text>
<text x="421.8" y="651.8" font-size="7.8" text-anchor="end" fill="#2a2a2a" stroke="#2a2a2a" stroke-width="0.12" transform="rotate(-45 421.8 651.8)" textLength="31" lengthAdjust="spacingAndGlyphs">Ly6G<tspan dy="-2.5" font-size="4.5">−</tspan><tspan dy="2.5"> Eos</tspan></text>
<text x="441.8" y="651.8" font-size="7.8" text-anchor="end" fill="#2a2a2a" stroke="#2a2a2a" stroke-width="0.12" transform="rotate(-45 441.8 651.8)" textLength="31" lengthAdjust="spacingAndGlyphs">Ly6G<tspan dy="-2.5" font-size="4.5">+</tspan><tspan dy="2.5"> Eos</tspan></text>
<text x="461.59999999999997" y="651.8" font-size="7.8" text-anchor="end" fill="#2a2a2a" stroke="#2a2a2a" stroke-width="0.12" transform="rotate(-45 461.59999999999997 651.8)" textLength="14" lengthAdjust="spacingAndGlyphs">Neu</text>
<text x="481.59999999999997" y="651.8" font-size="7.8" text-anchor="end" fill="#2a2a2a" stroke="#2a2a2a" stroke-width="0.12" transform="rotate(-45 481.59999999999997 651.8)" textLength="31" lengthAdjust="spacingAndGlyphs">Ly6G<tspan dy="-2.5" font-size="4.5">−</tspan><tspan dy="2.5"> Eos</tspan></text>
<text x="501.4" y="651.8" font-size="7.8" text-anchor="end" fill="#2a2a2a" stroke="#2a2a2a" stroke-width="0.12" transform="rotate(-45 501.4 651.8)" textLength="31" lengthAdjust="spacingAndGlyphs">Ly6G<tspan dy="-2.5" font-size="4.5">+</tspan><tspan dy="2.5"> Eos</tspan></text>
<rect x="392.6" y="680" width="53.69999999999999" height="1.2" fill="#70706c"/>
<text x="419.6" y="694" font-size="7.8" text-anchor="middle" fill="#2a2a2a" stroke="#2a2a2a" stroke-width="0.12">Trib1<tspan dy="-3" font-size="4.8" fill-opacity="0.8">+/+</tspan></text>
<rect x="451.5" y="680" width="55.69999999999999" height="1.2" fill="#70706c"/>
<text x="478.5" y="694" font-size="7.8" text-anchor="middle" fill="#2a2a2a" stroke="#2a2a2a" stroke-width="0.12">Trib1<tspan dy="-3" font-size="4.8" fill-opacity="0.8">ΔHSC</tspan></text>
<text x="370.4" y="599.8" font-size="9" text-anchor="middle" fill="#2a2a2a" stroke="#2a2a2a" stroke-width="0.12" transform="rotate(-90 370.4 599.8)" textLength="89.5" lengthAdjust="spacingAndGlyphs">Relative Ltf expression</text>
<rect x="0" y="0" width="1.5" height="703" fill="#6a6a66"/>
<rect x="518.3" y="0" width="1.7" height="703" fill="#6a6a66"/>
<rect x="0" y="701" width="520" height="2" fill="#6a6a66"/>
<rect x="0" y="0" width="520" height="1" fill="#2e2e2a"/>
</svg>
</body></html>
